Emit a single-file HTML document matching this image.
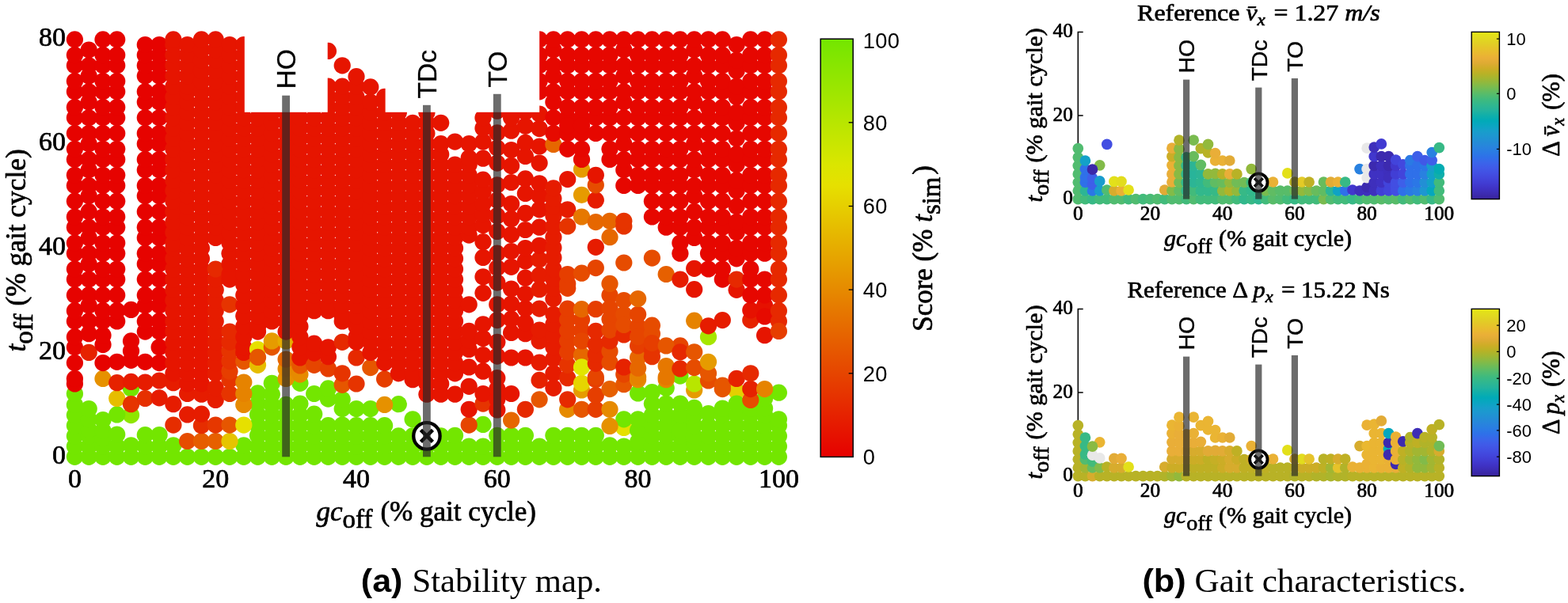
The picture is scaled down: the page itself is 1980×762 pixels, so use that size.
<!DOCTYPE html>
<html lang="en"><head><meta charset="utf-8"><title>Stability map and gait characteristics</title>
<style>html,body{margin:0;padding:0;background:#fff}body{width:1980px;height:762px;overflow:hidden}svg{display:block}.cm{font-family:"Liberation Serif","DejaVu Serif",serif}.sf{font-family:"Liberation Sans","DejaVu Sans",sans-serif}</style></head><body>
<svg width="1980" height="762" viewBox="0 0 1980 762">
<rect width="1980" height="762" fill="#fff"/>
<g id="main">
<path d="M94.4 49.9 V577.3 H983.4" fill="none" stroke="#000" stroke-width="1.2"/>
<g fill="#8ee600"><circle cx="165.5" cy="524.6" r="10.62"/></g>
<g fill="#73e600"><circle cx="503.3" cy="510.7" r="10.62"/></g>
<g fill="#e68a00"><circle cx="716.7" cy="517.3" r="10.62"/></g>
<g fill="#e6e000"><circle cx="787.8" cy="540.4" r="10.62"/></g>
<g fill="#73e600"><circle cx="858.9" cy="475.1" r="10.62"/></g>
<g fill="#e64500"><circle cx="858.9" cy="436.9" r="10.62"/></g>
<g fill="#a6e600"><circle cx="894.5" cy="425.7" r="10.62"/></g>
<g fill="#e6cf00"><circle cx="930.1" cy="494.2" r="10.62"/></g>
<g fill="#73e600"><circle cx="94.4" cy="577.3" r="10.62"/><circle cx="94.4" cy="564.1" r="10.62"/><circle cx="94.4" cy="550.9" r="10.62"/><circle cx="94.4" cy="537.7" r="10.62"/><circle cx="94.4" cy="524.6" r="10.62"/><circle cx="94.4" cy="511.4" r="10.62"/><circle cx="94.4" cy="497.5" r="10.62"/><circle cx="112.2" cy="577.3" r="10.62"/><circle cx="112.2" cy="564.1" r="10.62"/><circle cx="112.2" cy="550.9" r="10.62"/><circle cx="112.2" cy="543" r="10.62"/><circle cx="112.2" cy="529.8" r="10.62"/><circle cx="112.2" cy="516.6" r="10.62"/><circle cx="130" cy="577.3" r="10.62"/><circle cx="130" cy="564.1" r="10.62"/><circle cx="130" cy="554.2" r="10.62"/><circle cx="130" cy="544.3" r="10.62"/><circle cx="130" cy="530.5" r="10.62"/><circle cx="147.7" cy="523.9" r="10.62"/><circle cx="147.7" cy="577.3" r="10.62"/><circle cx="147.7" cy="564.1" r="10.62"/><circle cx="147.7" cy="549" r="10.62"/><circle cx="165.5" cy="577.3" r="10.62"/><circle cx="165.5" cy="562.8" r="10.62"/><circle cx="165.5" cy="490.9" r="10.62"/><circle cx="183.3" cy="577.3" r="10.62"/><circle cx="183.3" cy="564.1" r="10.62"/><circle cx="183.3" cy="549.6" r="10.62"/><circle cx="201.1" cy="577.3" r="10.62"/><circle cx="201.1" cy="564.1" r="10.62"/><circle cx="201.1" cy="549.6" r="10.62"/><circle cx="218.9" cy="577.3" r="10.62"/><circle cx="218.9" cy="562.8" r="10.62"/><circle cx="236.6" cy="577.3" r="10.62"/><circle cx="254.4" cy="577.3" r="10.62"/><circle cx="272.2" cy="577.3" r="10.62"/><circle cx="290" cy="577.3" r="10.62"/><circle cx="307.8" cy="577.3" r="10.62"/><circle cx="307.8" cy="562.8" r="10.62"/><circle cx="325.5" cy="577.3" r="10.62"/><circle cx="325.5" cy="564.1" r="10.62"/><circle cx="325.5" cy="550.3" r="10.62"/><circle cx="325.5" cy="537.7" r="10.62"/><circle cx="325.5" cy="523.9" r="10.62"/><circle cx="325.5" cy="510.1" r="10.62"/><circle cx="325.5" cy="496.9" r="10.62"/><circle cx="343.3" cy="577.3" r="10.62"/><circle cx="343.3" cy="564.1" r="10.62"/><circle cx="343.3" cy="550.9" r="10.62"/><circle cx="343.3" cy="537.7" r="10.62"/><circle cx="343.3" cy="524.6" r="10.62"/><circle cx="343.3" cy="511.4" r="10.62"/><circle cx="343.3" cy="498.2" r="10.62"/><circle cx="343.3" cy="484.3" r="10.62"/><circle cx="361.1" cy="577.3" r="10.62"/><circle cx="361.1" cy="564.1" r="10.62"/><circle cx="361.1" cy="550.9" r="10.62"/><circle cx="361.1" cy="537.7" r="10.62"/><circle cx="361.1" cy="524.6" r="10.62"/><circle cx="361.1" cy="511.4" r="10.62"/><circle cx="378.9" cy="577.3" r="10.62"/><circle cx="378.9" cy="564.1" r="10.62"/><circle cx="378.9" cy="550.9" r="10.62"/><circle cx="378.9" cy="537.7" r="10.62"/><circle cx="378.9" cy="524.6" r="10.62"/><circle cx="378.9" cy="510.1" r="10.62"/><circle cx="378.9" cy="484.3" r="10.62"/><circle cx="396.7" cy="577.3" r="10.62"/><circle cx="396.7" cy="564.1" r="10.62"/><circle cx="396.7" cy="550.9" r="10.62"/><circle cx="396.7" cy="537.7" r="10.62"/><circle cx="396.7" cy="523.2" r="10.62"/><circle cx="396.7" cy="497.5" r="10.62"/><circle cx="414.4" cy="577.3" r="10.62"/><circle cx="414.4" cy="564.1" r="10.62"/><circle cx="414.4" cy="550.9" r="10.62"/><circle cx="414.4" cy="537.7" r="10.62"/><circle cx="414.4" cy="504.1" r="10.62"/><circle cx="414.4" cy="490.9" r="10.62"/><circle cx="432.2" cy="577.3" r="10.62"/><circle cx="432.2" cy="564.1" r="10.62"/><circle cx="432.2" cy="550.9" r="10.62"/><circle cx="432.2" cy="537.1" r="10.62"/><circle cx="432.2" cy="516.6" r="10.62"/><circle cx="432.2" cy="504.8" r="10.62"/><circle cx="450" cy="577.3" r="10.62"/><circle cx="450" cy="564.1" r="10.62"/><circle cx="450" cy="550.9" r="10.62"/><circle cx="450" cy="537.7" r="10.62"/><circle cx="450" cy="516.6" r="10.62"/><circle cx="467.8" cy="577.3" r="10.62"/><circle cx="467.8" cy="564.1" r="10.62"/><circle cx="467.8" cy="550.9" r="10.62"/><circle cx="467.8" cy="537.7" r="10.62"/><circle cx="467.8" cy="516.6" r="10.62"/><circle cx="485.6" cy="577.3" r="10.62"/><circle cx="485.6" cy="564.1" r="10.62"/><circle cx="485.6" cy="550.9" r="10.62"/><circle cx="485.6" cy="537.7" r="10.62"/><circle cx="503.3" cy="577.3" r="10.62"/><circle cx="503.3" cy="564.1" r="10.62"/><circle cx="503.3" cy="550.9" r="10.62"/><circle cx="521.1" cy="577.3" r="10.62"/><circle cx="521.1" cy="564.1" r="10.62"/><circle cx="521.1" cy="550.9" r="10.62"/><circle cx="521.1" cy="529.8" r="10.62"/><circle cx="538.9" cy="577.3" r="10.62"/><circle cx="538.9" cy="564.1" r="10.62"/><circle cx="538.9" cy="550.9" r="10.62"/><circle cx="556.7" cy="577.3" r="10.62"/><circle cx="556.7" cy="564.1" r="10.62"/><circle cx="556.7" cy="550.9" r="10.62"/><circle cx="574.5" cy="577.3" r="10.62"/><circle cx="574.5" cy="564.1" r="10.62"/><circle cx="574.5" cy="550.3" r="10.62"/><circle cx="592.2" cy="577.3" r="10.62"/><circle cx="592.2" cy="564.1" r="10.62"/><circle cx="610" cy="577.3" r="10.62"/><circle cx="610" cy="564.1" r="10.62"/><circle cx="610" cy="536.4" r="10.62"/><circle cx="627.8" cy="577.3" r="10.62"/><circle cx="627.8" cy="564.1" r="10.62"/><circle cx="627.8" cy="550.3" r="10.62"/><circle cx="645.6" cy="577.3" r="10.62"/><circle cx="645.6" cy="564.1" r="10.62"/><circle cx="645.6" cy="550.3" r="10.62"/><circle cx="663.4" cy="577.3" r="10.62"/><circle cx="663.4" cy="564.1" r="10.62"/><circle cx="663.4" cy="550.3" r="10.62"/><circle cx="681.1" cy="577.3" r="10.62"/><circle cx="681.1" cy="564.1" r="10.62"/><circle cx="698.9" cy="577.3" r="10.62"/><circle cx="698.9" cy="564.1" r="10.62"/><circle cx="698.9" cy="550.3" r="10.62"/><circle cx="716.7" cy="577.3" r="10.62"/><circle cx="716.7" cy="564.1" r="10.62"/><circle cx="716.7" cy="550.3" r="10.62"/><circle cx="734.5" cy="577.3" r="10.62"/><circle cx="734.5" cy="564.1" r="10.62"/><circle cx="734.5" cy="550.3" r="10.62"/><circle cx="752.3" cy="577.3" r="10.62"/><circle cx="752.3" cy="564.1" r="10.62"/><circle cx="752.3" cy="550.3" r="10.62"/><circle cx="770" cy="577.3" r="10.62"/><circle cx="770" cy="562.8" r="10.62"/><circle cx="787.8" cy="577.3" r="10.62"/><circle cx="787.8" cy="564.1" r="10.62"/><circle cx="787.8" cy="529.8" r="10.62"/><circle cx="805.6" cy="577.3" r="10.62"/><circle cx="805.6" cy="564.1" r="10.62"/><circle cx="805.6" cy="558.2" r="10.62"/><circle cx="805.6" cy="543.7" r="10.62"/><circle cx="805.6" cy="529.8" r="10.62"/><circle cx="805.6" cy="496.9" r="10.62"/><circle cx="823.4" cy="577.3" r="10.62"/><circle cx="823.4" cy="564.1" r="10.62"/><circle cx="823.4" cy="550.9" r="10.62"/><circle cx="823.4" cy="537.7" r="10.62"/><circle cx="823.4" cy="524.6" r="10.62"/><circle cx="823.4" cy="510.1" r="10.62"/><circle cx="823.4" cy="495.5" r="10.62"/><circle cx="841.2" cy="577.3" r="10.62"/><circle cx="841.2" cy="564.1" r="10.62"/><circle cx="841.2" cy="550.9" r="10.62"/><circle cx="841.2" cy="537.7" r="10.62"/><circle cx="841.2" cy="524.6" r="10.62"/><circle cx="841.2" cy="510.1" r="10.62"/><circle cx="841.2" cy="490.3" r="10.62"/><circle cx="858.9" cy="577.3" r="10.62"/><circle cx="858.9" cy="564.1" r="10.62"/><circle cx="858.9" cy="550.9" r="10.62"/><circle cx="858.9" cy="534.4" r="10.62"/><circle cx="858.9" cy="543.7" r="10.62"/><circle cx="858.9" cy="524.6" r="10.62"/><circle cx="858.9" cy="510.1" r="10.62"/><circle cx="876.7" cy="577.3" r="10.62"/><circle cx="876.7" cy="564.1" r="10.62"/><circle cx="876.7" cy="558.2" r="10.62"/><circle cx="876.7" cy="550.9" r="10.62"/><circle cx="876.7" cy="537.7" r="10.62"/><circle cx="876.7" cy="524.6" r="10.62"/><circle cx="876.7" cy="515.3" r="10.62"/><circle cx="894.5" cy="577.3" r="10.62"/><circle cx="894.5" cy="564.1" r="10.62"/><circle cx="894.5" cy="550.9" r="10.62"/><circle cx="894.5" cy="537.7" r="10.62"/><circle cx="894.5" cy="522.6" r="10.62"/><circle cx="912.3" cy="577.3" r="10.62"/><circle cx="912.3" cy="564.1" r="10.62"/><circle cx="912.3" cy="550.9" r="10.62"/><circle cx="912.3" cy="537.7" r="10.62"/><circle cx="912.3" cy="524.6" r="10.62"/><circle cx="912.3" cy="516" r="10.62"/><circle cx="930.1" cy="577.3" r="10.62"/><circle cx="930.1" cy="564.1" r="10.62"/><circle cx="930.1" cy="550.9" r="10.62"/><circle cx="930.1" cy="537.7" r="10.62"/><circle cx="930.1" cy="524.6" r="10.62"/><circle cx="930.1" cy="510.1" r="10.62"/><circle cx="947.8" cy="577.3" r="10.62"/><circle cx="947.8" cy="564.1" r="10.62"/><circle cx="947.8" cy="550.9" r="10.62"/><circle cx="947.8" cy="537.7" r="10.62"/><circle cx="947.8" cy="524.6" r="10.62"/><circle cx="947.8" cy="516" r="10.62"/><circle cx="965.6" cy="577.3" r="10.62"/><circle cx="965.6" cy="564.1" r="10.62"/><circle cx="965.6" cy="550.9" r="10.62"/><circle cx="965.6" cy="537.7" r="10.62"/><circle cx="965.6" cy="524.6" r="10.62"/><circle cx="965.6" cy="516" r="10.62"/><circle cx="965.6" cy="503.5" r="10.62"/><circle cx="983.4" cy="577.3" r="10.62"/><circle cx="983.4" cy="564.1" r="10.62"/><circle cx="983.4" cy="550.9" r="10.62"/><circle cx="983.4" cy="537.7" r="10.62"/><circle cx="983.4" cy="529.8" r="10.62"/><circle cx="983.4" cy="496.2" r="10.62"/></g>
<g fill="#e60300"><circle cx="94.4" cy="485" r="10.62"/><circle cx="94.4" cy="478.4" r="10.62"/><circle cx="94.4" cy="458.6" r="10.62"/><circle cx="94.4" cy="438.8" r="10.62"/><circle cx="94.4" cy="425.7" r="10.62"/><circle cx="94.4" cy="405.9" r="10.62"/><circle cx="94.4" cy="392.7" r="10.62"/><circle cx="94.4" cy="372.9" r="10.62"/><circle cx="94.4" cy="353.1" r="10.62"/><circle cx="94.4" cy="340" r="10.62"/><circle cx="94.4" cy="320.2" r="10.62"/><circle cx="94.4" cy="307" r="10.62"/><circle cx="94.4" cy="287.2" r="10.62"/><circle cx="94.4" cy="274" r="10.62"/><circle cx="94.4" cy="254.2" r="10.62"/><circle cx="94.4" cy="234.5" r="10.62"/><circle cx="94.4" cy="221.3" r="10.62"/><circle cx="94.4" cy="201.5" r="10.62"/><circle cx="94.4" cy="188.3" r="10.62"/><circle cx="94.4" cy="168.5" r="10.62"/><circle cx="94.4" cy="148.8" r="10.62"/><circle cx="94.4" cy="135.6" r="10.62"/><circle cx="94.4" cy="115.8" r="10.62"/><circle cx="94.4" cy="102.6" r="10.62"/><circle cx="94.4" cy="82.8" r="10.62"/><circle cx="94.4" cy="69.6" r="10.62"/><circle cx="94.4" cy="49.9" r="10.62"/></g>
<g fill="#e62200"><circle cx="112.2" cy="445.4" r="10.62"/></g>
<g fill="#e60300"><circle cx="112.2" cy="421.7" r="10.62"/><circle cx="112.2" cy="405.9" r="10.62"/><circle cx="112.2" cy="386.1" r="10.62"/><circle cx="112.2" cy="372.9" r="10.62"/><circle cx="112.2" cy="353.1" r="10.62"/><circle cx="112.2" cy="333.4" r="10.62"/><circle cx="112.2" cy="320.2" r="10.62"/><circle cx="112.2" cy="300.4" r="10.62"/><circle cx="112.2" cy="287.2" r="10.62"/><circle cx="112.2" cy="267.4" r="10.62"/><circle cx="112.2" cy="247.6" r="10.62"/><circle cx="112.2" cy="234.5" r="10.62"/><circle cx="112.2" cy="214.7" r="10.62"/><circle cx="112.2" cy="201.5" r="10.62"/><circle cx="112.2" cy="181.7" r="10.62"/><circle cx="112.2" cy="168.5" r="10.62"/><circle cx="112.2" cy="148.8" r="10.62"/><circle cx="112.2" cy="129" r="10.62"/><circle cx="112.2" cy="115.8" r="10.62"/><circle cx="112.2" cy="96" r="10.62"/><circle cx="112.2" cy="82.8" r="10.62"/><circle cx="112.2" cy="63" r="10.62"/></g>
<g fill="#e69100"><circle cx="130" cy="478.4" r="10.62"/></g>
<g fill="#e60300"><circle cx="130" cy="458.6" r="10.62"/><circle cx="130" cy="435.6" r="10.62"/><circle cx="130" cy="423.7" r="10.62"/><circle cx="130" cy="405.9" r="10.62"/><circle cx="130" cy="392.7" r="10.62"/><circle cx="130" cy="372.9" r="10.62"/><circle cx="130" cy="353.1" r="10.62"/><circle cx="130" cy="340" r="10.62"/><circle cx="130" cy="320.2" r="10.62"/><circle cx="130" cy="307" r="10.62"/><circle cx="130" cy="287.2" r="10.62"/><circle cx="130" cy="274" r="10.62"/><circle cx="130" cy="254.2" r="10.62"/><circle cx="130" cy="234.5" r="10.62"/><circle cx="130" cy="221.3" r="10.62"/><circle cx="130" cy="201.5" r="10.62"/><circle cx="130" cy="188.3" r="10.62"/><circle cx="130" cy="168.5" r="10.62"/><circle cx="130" cy="148.8" r="10.62"/><circle cx="130" cy="135.6" r="10.62"/><circle cx="130" cy="115.8" r="10.62"/><circle cx="130" cy="102.6" r="10.62"/><circle cx="130" cy="82.8" r="10.62"/><circle cx="130" cy="69.6" r="10.62"/><circle cx="130" cy="49.9" r="10.62"/></g>
<g fill="#e6bd00"><circle cx="147.7" cy="503.5" r="10.62"/></g>
<g fill="#e62200"><circle cx="147.7" cy="483.7" r="10.62"/></g>
<g fill="#e60300"><circle cx="147.7" cy="457.3" r="10.62"/><circle cx="147.7" cy="405.9" r="10.62"/><circle cx="147.7" cy="392.7" r="10.62"/><circle cx="147.7" cy="372.9" r="10.62"/><circle cx="147.7" cy="353.1" r="10.62"/><circle cx="147.7" cy="340" r="10.62"/><circle cx="147.7" cy="320.2" r="10.62"/><circle cx="147.7" cy="307" r="10.62"/><circle cx="147.7" cy="287.2" r="10.62"/><circle cx="147.7" cy="274" r="10.62"/><circle cx="147.7" cy="254.2" r="10.62"/><circle cx="147.7" cy="234.5" r="10.62"/><circle cx="147.7" cy="221.3" r="10.62"/><circle cx="147.7" cy="201.5" r="10.62"/><circle cx="147.7" cy="188.3" r="10.62"/><circle cx="147.7" cy="168.5" r="10.62"/><circle cx="147.7" cy="148.8" r="10.62"/><circle cx="147.7" cy="135.6" r="10.62"/><circle cx="147.7" cy="115.8" r="10.62"/><circle cx="147.7" cy="102.6" r="10.62"/><circle cx="147.7" cy="82.8" r="10.62"/><circle cx="147.7" cy="69.6" r="10.62"/><circle cx="147.7" cy="49.9" r="10.62"/></g>
<g fill="#e63400"><circle cx="165.5" cy="510.7" r="10.62"/></g>
<g fill="#e61c00"><circle cx="165.5" cy="482.4" r="10.62"/></g>
<g fill="#e60300"><circle cx="165.5" cy="455.3" r="10.62"/><circle cx="165.5" cy="443.5" r="10.62"/><circle cx="165.5" cy="430.9" r="10.62"/><circle cx="165.5" cy="391.4" r="10.62"/></g>
<g fill="#e63000"><circle cx="183.3" cy="503.5" r="10.62"/></g>
<g fill="#e61c00"><circle cx="183.3" cy="483" r="10.62"/></g>
<g fill="#e60300"><circle cx="183.3" cy="457.3" r="10.62"/><circle cx="183.3" cy="419.1" r="10.62"/><circle cx="183.3" cy="405.9" r="10.62"/><circle cx="183.3" cy="386.1" r="10.62"/><circle cx="183.3" cy="372.9" r="10.62"/><circle cx="183.3" cy="353.1" r="10.62"/><circle cx="183.3" cy="333.4" r="10.62"/><circle cx="183.3" cy="320.2" r="10.62"/><circle cx="183.3" cy="300.4" r="10.62"/><circle cx="183.3" cy="287.2" r="10.62"/><circle cx="183.3" cy="267.4" r="10.62"/><circle cx="183.3" cy="247.6" r="10.62"/><circle cx="183.3" cy="234.5" r="10.62"/><circle cx="183.3" cy="214.7" r="10.62"/><circle cx="183.3" cy="201.5" r="10.62"/><circle cx="183.3" cy="181.7" r="10.62"/><circle cx="183.3" cy="168.5" r="10.62"/><circle cx="183.3" cy="148.8" r="10.62"/><circle cx="183.3" cy="129" r="10.62"/><circle cx="183.3" cy="115.8" r="10.62"/><circle cx="183.3" cy="96" r="10.62"/><circle cx="183.3" cy="82.8" r="10.62"/><circle cx="183.3" cy="69.6" r="10.62"/><circle cx="183.3" cy="56.5" r="10.62"/></g>
<g fill="#e61c00"><circle cx="201.1" cy="502.8" r="10.62"/><circle cx="201.1" cy="481" r="10.62"/></g>
<g fill="#e60300"><circle cx="201.1" cy="458.6" r="10.62"/><circle cx="201.1" cy="438.8" r="10.62"/><circle cx="201.1" cy="419.1" r="10.62"/><circle cx="201.1" cy="405.9" r="10.62"/><circle cx="201.1" cy="386.1" r="10.62"/><circle cx="201.1" cy="372.9" r="10.62"/><circle cx="201.1" cy="353.1" r="10.62"/><circle cx="201.1" cy="333.4" r="10.62"/><circle cx="201.1" cy="320.2" r="10.62"/><circle cx="201.1" cy="300.4" r="10.62"/><circle cx="201.1" cy="287.2" r="10.62"/><circle cx="201.1" cy="267.4" r="10.62"/><circle cx="201.1" cy="247.6" r="10.62"/><circle cx="201.1" cy="234.5" r="10.62"/><circle cx="201.1" cy="214.7" r="10.62"/><circle cx="201.1" cy="201.5" r="10.62"/><circle cx="201.1" cy="181.7" r="10.62"/><circle cx="201.1" cy="168.5" r="10.62"/><circle cx="201.1" cy="148.8" r="10.62"/><circle cx="201.1" cy="129" r="10.62"/><circle cx="201.1" cy="115.8" r="10.62"/><circle cx="201.1" cy="96" r="10.62"/><circle cx="201.1" cy="82.8" r="10.62"/><circle cx="201.1" cy="69.6" r="10.62"/><circle cx="201.1" cy="56.5" r="10.62"/></g>
<g fill="#e62d00"><circle cx="218.9" cy="537.1" r="10.62"/></g>
<g fill="#e61c00"><circle cx="218.9" cy="510.7" r="10.62"/><circle cx="218.9" cy="483.7" r="10.62"/></g>
<g fill="#e61500"><circle cx="218.9" cy="471.8" r="10.62"/><circle cx="218.9" cy="458.6" r="10.62"/><circle cx="218.9" cy="445.4" r="10.62"/><circle cx="218.9" cy="432.3" r="10.62"/><circle cx="218.9" cy="419.1" r="10.62"/><circle cx="218.9" cy="405.9" r="10.62"/><circle cx="218.9" cy="392.7" r="10.62"/><circle cx="218.9" cy="379.5" r="10.62"/><circle cx="218.9" cy="366.3" r="10.62"/><circle cx="218.9" cy="353.1" r="10.62"/><circle cx="218.9" cy="340" r="10.62"/><circle cx="218.9" cy="326.8" r="10.62"/><circle cx="218.9" cy="313.6" r="10.62"/><circle cx="218.9" cy="307" r="10.62"/><circle cx="218.9" cy="293.8" r="10.62"/><circle cx="218.9" cy="280.6" r="10.62"/><circle cx="218.9" cy="267.4" r="10.62"/><circle cx="218.9" cy="254.2" r="10.62"/><circle cx="218.9" cy="241.1" r="10.62"/><circle cx="218.9" cy="227.9" r="10.62"/><circle cx="218.9" cy="214.7" r="10.62"/><circle cx="218.9" cy="201.5" r="10.62"/><circle cx="218.9" cy="188.3" r="10.62"/><circle cx="218.9" cy="175.1" r="10.62"/><circle cx="218.9" cy="161.9" r="10.62"/><circle cx="218.9" cy="148.8" r="10.62"/><circle cx="218.9" cy="135.6" r="10.62"/><circle cx="218.9" cy="122.4" r="10.62"/><circle cx="218.9" cy="109.2" r="10.62"/><circle cx="218.9" cy="96" r="10.62"/><circle cx="218.9" cy="82.8" r="10.62"/><circle cx="218.9" cy="69.6" r="10.62"/><circle cx="218.9" cy="56.5" r="10.62"/><circle cx="218.9" cy="49.9" r="10.62"/></g>
<g fill="#e64c00"><circle cx="236.6" cy="557.5" r="10.62"/></g>
<g fill="#e61c00"><circle cx="236.6" cy="523.9" r="10.62"/><circle cx="236.6" cy="497.5" r="10.62"/></g>
<g fill="#e61500"><circle cx="236.6" cy="485" r="10.62"/><circle cx="236.6" cy="471.8" r="10.62"/><circle cx="236.6" cy="458.6" r="10.62"/><circle cx="236.6" cy="445.4" r="10.62"/><circle cx="236.6" cy="432.3" r="10.62"/><circle cx="236.6" cy="419.1" r="10.62"/><circle cx="236.6" cy="405.9" r="10.62"/><circle cx="236.6" cy="392.7" r="10.62"/><circle cx="236.6" cy="379.5" r="10.62"/><circle cx="236.6" cy="366.3" r="10.62"/><circle cx="236.6" cy="353.1" r="10.62"/><circle cx="236.6" cy="340" r="10.62"/><circle cx="236.6" cy="326.8" r="10.62"/><circle cx="236.6" cy="313.6" r="10.62"/><circle cx="236.6" cy="300.4" r="10.62"/><circle cx="236.6" cy="287.2" r="10.62"/><circle cx="236.6" cy="274" r="10.62"/><circle cx="236.6" cy="260.8" r="10.62"/><circle cx="236.6" cy="247.6" r="10.62"/><circle cx="236.6" cy="234.5" r="10.62"/><circle cx="236.6" cy="221.3" r="10.62"/><circle cx="236.6" cy="208.1" r="10.62"/><circle cx="236.6" cy="194.9" r="10.62"/><circle cx="236.6" cy="181.7" r="10.62"/><circle cx="236.6" cy="168.5" r="10.62"/><circle cx="236.6" cy="155.3" r="10.62"/><circle cx="236.6" cy="142.2" r="10.62"/><circle cx="236.6" cy="129" r="10.62"/><circle cx="236.6" cy="115.8" r="10.62"/><circle cx="236.6" cy="109.2" r="10.62"/><circle cx="236.6" cy="96" r="10.62"/><circle cx="236.6" cy="82.8" r="10.62"/><circle cx="236.6" cy="69.6" r="10.62"/><circle cx="236.6" cy="56.5" r="10.62"/></g>
<g fill="#e65d00"><circle cx="254.4" cy="557.5" r="10.62"/></g>
<g fill="#e62d00"><circle cx="254.4" cy="537.7" r="10.62"/></g>
<g fill="#e61c00"><circle cx="254.4" cy="523.2" r="10.62"/><circle cx="254.4" cy="498.2" r="10.62"/></g>
<g fill="#e61500"><circle cx="254.4" cy="485" r="10.62"/><circle cx="254.4" cy="471.8" r="10.62"/><circle cx="254.4" cy="458.6" r="10.62"/><circle cx="254.4" cy="445.4" r="10.62"/><circle cx="254.4" cy="432.3" r="10.62"/><circle cx="254.4" cy="419.1" r="10.62"/><circle cx="254.4" cy="405.9" r="10.62"/><circle cx="254.4" cy="392.7" r="10.62"/><circle cx="254.4" cy="379.5" r="10.62"/><circle cx="254.4" cy="366.3" r="10.62"/><circle cx="254.4" cy="353.1" r="10.62"/><circle cx="254.4" cy="340" r="10.62"/><circle cx="254.4" cy="326.8" r="10.62"/><circle cx="254.4" cy="313.6" r="10.62"/><circle cx="254.4" cy="300.4" r="10.62"/><circle cx="254.4" cy="287.2" r="10.62"/><circle cx="254.4" cy="274" r="10.62"/><circle cx="254.4" cy="260.8" r="10.62"/><circle cx="254.4" cy="247.6" r="10.62"/><circle cx="254.4" cy="234.5" r="10.62"/><circle cx="254.4" cy="221.3" r="10.62"/><circle cx="254.4" cy="208.1" r="10.62"/><circle cx="254.4" cy="194.9" r="10.62"/><circle cx="254.4" cy="181.7" r="10.62"/><circle cx="254.4" cy="168.5" r="10.62"/><circle cx="254.4" cy="155.3" r="10.62"/><circle cx="254.4" cy="142.2" r="10.62"/><circle cx="254.4" cy="129" r="10.62"/><circle cx="254.4" cy="115.8" r="10.62"/><circle cx="254.4" cy="102.6" r="10.62"/><circle cx="254.4" cy="89.4" r="10.62"/><circle cx="254.4" cy="76.2" r="10.62"/><circle cx="254.4" cy="63" r="10.62"/><circle cx="254.4" cy="49.9" r="10.62"/></g>
<g fill="#e66000"><circle cx="272.2" cy="557.5" r="10.62"/></g>
<g fill="#e63700"><circle cx="272.2" cy="537.1" r="10.62"/></g>
<g fill="#e61c00"><circle cx="272.2" cy="505.4" r="10.62"/><circle cx="272.2" cy="490.3" r="10.62"/><circle cx="272.2" cy="471.8" r="10.62"/><circle cx="272.2" cy="458.6" r="10.62"/><circle cx="272.2" cy="445.4" r="10.62"/><circle cx="272.2" cy="432.3" r="10.62"/><circle cx="272.2" cy="419.1" r="10.62"/><circle cx="272.2" cy="405.9" r="10.62"/><circle cx="272.2" cy="392.7" r="10.62"/><circle cx="272.2" cy="379.5" r="10.62"/><circle cx="272.2" cy="366.3" r="10.62"/><circle cx="272.2" cy="353.1" r="10.62"/></g>
<g fill="#e62900"><circle cx="272.2" cy="340" r="10.62"/></g>
<g fill="#e61500"><circle cx="272.2" cy="300.4" r="10.62"/><circle cx="272.2" cy="287.2" r="10.62"/><circle cx="272.2" cy="274" r="10.62"/><circle cx="272.2" cy="260.8" r="10.62"/><circle cx="272.2" cy="247.6" r="10.62"/><circle cx="272.2" cy="234.5" r="10.62"/><circle cx="272.2" cy="221.3" r="10.62"/><circle cx="272.2" cy="208.1" r="10.62"/><circle cx="272.2" cy="194.9" r="10.62"/><circle cx="272.2" cy="181.7" r="10.62"/><circle cx="272.2" cy="168.5" r="10.62"/><circle cx="272.2" cy="155.3" r="10.62"/><circle cx="272.2" cy="142.2" r="10.62"/><circle cx="272.2" cy="129" r="10.62"/><circle cx="272.2" cy="115.8" r="10.62"/><circle cx="272.2" cy="102.6" r="10.62"/><circle cx="272.2" cy="89.4" r="10.62"/><circle cx="272.2" cy="76.2" r="10.62"/><circle cx="272.2" cy="63" r="10.62"/><circle cx="272.2" cy="49.9" r="10.62"/></g>
<g fill="#e6c400"><circle cx="290" cy="557.5" r="10.62"/></g>
<g fill="#e65600"><circle cx="290" cy="537.1" r="10.62"/></g>
<g fill="#e63400"><circle cx="290" cy="497.5" r="10.62"/><circle cx="290" cy="479.7" r="10.62"/></g>
<g fill="#e63e00"><circle cx="290" cy="469.2" r="10.62"/></g>
<g fill="#e63400"><circle cx="290" cy="456.6" r="10.62"/><circle cx="290" cy="443.5" r="10.62"/></g>
<g fill="#e62900"><circle cx="290" cy="432.3" r="10.62"/><circle cx="290" cy="419.1" r="10.62"/></g>
<g fill="#e63400"><circle cx="290" cy="384.8" r="10.62"/></g>
<g fill="#e61500"><circle cx="290" cy="353.1" r="10.62"/><circle cx="290" cy="346.5" r="10.62"/><circle cx="290" cy="333.4" r="10.62"/><circle cx="290" cy="320.2" r="10.62"/><circle cx="290" cy="307" r="10.62"/><circle cx="290" cy="293.8" r="10.62"/><circle cx="290" cy="280.6" r="10.62"/><circle cx="290" cy="267.4" r="10.62"/><circle cx="290" cy="254.2" r="10.62"/><circle cx="290" cy="241.1" r="10.62"/><circle cx="290" cy="227.9" r="10.62"/><circle cx="290" cy="214.7" r="10.62"/><circle cx="290" cy="201.5" r="10.62"/><circle cx="290" cy="188.3" r="10.62"/><circle cx="290" cy="175.1" r="10.62"/><circle cx="290" cy="161.9" r="10.62"/><circle cx="290" cy="148.8" r="10.62"/><circle cx="290" cy="135.6" r="10.62"/><circle cx="290" cy="122.4" r="10.62"/><circle cx="290" cy="109.2" r="10.62"/><circle cx="290" cy="96" r="10.62"/><circle cx="290" cy="82.8" r="10.62"/><circle cx="290" cy="69.6" r="10.62"/><circle cx="290" cy="56.5" r="10.62"/></g>
<g fill="#e6e000"><circle cx="307.8" cy="537.1" r="10.62"/></g>
<g fill="#e68a00"><circle cx="307.8" cy="511.4" r="10.62"/></g>
<g fill="#e68300"><circle cx="307.8" cy="497.5" r="10.62"/><circle cx="307.8" cy="483" r="10.62"/></g>
<g fill="#e65600"><circle cx="307.8" cy="456.6" r="10.62"/></g>
<g fill="#e61500"><circle cx="307.8" cy="445.4" r="10.62"/><circle cx="307.8" cy="438.8" r="10.62"/><circle cx="307.8" cy="425.7" r="10.62"/><circle cx="307.8" cy="412.5" r="10.62"/><circle cx="307.8" cy="399.3" r="10.62"/><circle cx="307.8" cy="386.1" r="10.62"/><circle cx="307.8" cy="372.9" r="10.62"/><circle cx="307.8" cy="359.7" r="10.62"/><circle cx="307.8" cy="346.5" r="10.62"/><circle cx="307.8" cy="333.4" r="10.62"/><circle cx="307.8" cy="320.2" r="10.62"/><circle cx="307.8" cy="307" r="10.62"/><circle cx="307.8" cy="293.8" r="10.62"/><circle cx="307.8" cy="280.6" r="10.62"/><circle cx="307.8" cy="267.4" r="10.62"/><circle cx="307.8" cy="254.2" r="10.62"/><circle cx="307.8" cy="241.1" r="10.62"/><circle cx="307.8" cy="227.9" r="10.62"/><circle cx="307.8" cy="214.7" r="10.62"/><circle cx="307.8" cy="201.5" r="10.62"/><circle cx="307.8" cy="188.3" r="10.62"/><circle cx="307.8" cy="175.1" r="10.62"/><circle cx="307.8" cy="161.9" r="10.62"/><circle cx="307.8" cy="148.8" r="10.62"/><circle cx="307.8" cy="135.6" r="10.62"/><circle cx="307.8" cy="122.4" r="10.62"/><circle cx="307.8" cy="109.2" r="10.62"/><circle cx="307.8" cy="96" r="10.62"/><circle cx="307.8" cy="82.8" r="10.62"/><circle cx="307.8" cy="69.6" r="10.62"/><circle cx="307.8" cy="56.5" r="10.62"/></g>
<g fill="#e6bd00"><circle cx="325.5" cy="461.3" r="10.62"/></g>
<g fill="#e6e000"><circle cx="325.5" cy="441.5" r="10.62"/></g>
<g fill="#e65600"><circle cx="325.5" cy="451.4" r="10.62"/></g>
<g fill="#e61500"><circle cx="325.5" cy="419.1" r="10.62"/><circle cx="325.5" cy="412.5" r="10.62"/><circle cx="325.5" cy="399.3" r="10.62"/><circle cx="325.5" cy="386.1" r="10.62"/><circle cx="325.5" cy="372.9" r="10.62"/><circle cx="325.5" cy="359.7" r="10.62"/><circle cx="325.5" cy="346.5" r="10.62"/><circle cx="325.5" cy="333.4" r="10.62"/><circle cx="325.5" cy="320.2" r="10.62"/><circle cx="325.5" cy="307" r="10.62"/><circle cx="325.5" cy="293.8" r="10.62"/><circle cx="325.5" cy="280.6" r="10.62"/><circle cx="325.5" cy="267.4" r="10.62"/><circle cx="325.5" cy="254.2" r="10.62"/><circle cx="325.5" cy="241.1" r="10.62"/><circle cx="325.5" cy="227.9" r="10.62"/><circle cx="325.5" cy="214.7" r="10.62"/><circle cx="325.5" cy="201.5" r="10.62"/><circle cx="325.5" cy="188.3" r="10.62"/><circle cx="325.5" cy="175.1" r="10.62"/><circle cx="325.5" cy="161.9" r="10.62"/><circle cx="325.5" cy="148.8" r="10.62"/><circle cx="325.5" cy="135.6" r="10.62"/><circle cx="325.5" cy="122.4" r="10.62"/><circle cx="325.5" cy="109.2" r="10.62"/><circle cx="325.5" cy="96" r="10.62"/><circle cx="325.5" cy="82.8" r="10.62"/><circle cx="325.5" cy="69.6" r="10.62"/><circle cx="325.5" cy="56.5" r="10.62"/></g>
<g fill="#e65600"><circle cx="343.3" cy="438.8" r="10.62"/></g>
<g fill="#e69b00"><circle cx="343.3" cy="430.9" r="10.62"/></g>
<g fill="#e61500"><circle cx="343.3" cy="405.9" r="10.62"/><circle cx="343.3" cy="392.7" r="10.62"/><circle cx="343.3" cy="379.5" r="10.62"/><circle cx="343.3" cy="366.3" r="10.62"/><circle cx="343.3" cy="353.1" r="10.62"/><circle cx="343.3" cy="340" r="10.62"/><circle cx="343.3" cy="326.8" r="10.62"/><circle cx="343.3" cy="313.6" r="10.62"/><circle cx="343.3" cy="300.4" r="10.62"/><circle cx="343.3" cy="287.2" r="10.62"/><circle cx="343.3" cy="274" r="10.62"/><circle cx="343.3" cy="260.8" r="10.62"/><circle cx="343.3" cy="247.6" r="10.62"/><circle cx="343.3" cy="234.5" r="10.62"/><circle cx="343.3" cy="221.3" r="10.62"/><circle cx="343.3" cy="208.1" r="10.62"/><circle cx="343.3" cy="194.9" r="10.62"/><circle cx="343.3" cy="181.7" r="10.62"/><circle cx="343.3" cy="168.5" r="10.62"/><circle cx="343.3" cy="155.3" r="10.62"/><circle cx="343.3" cy="142.2" r="10.62"/><circle cx="343.3" cy="129" r="10.62"/><circle cx="343.3" cy="115.8" r="10.62"/><circle cx="343.3" cy="102.6" r="10.62"/><circle cx="343.3" cy="89.4" r="10.62"/><circle cx="343.3" cy="76.2" r="10.62"/><circle cx="343.3" cy="63" r="10.62"/><circle cx="343.3" cy="49.9" r="10.62"/></g>
<g fill="#e69100"><circle cx="361.1" cy="478.4" r="10.62"/></g>
<g fill="#e68a00"><circle cx="361.1" cy="465.9" r="10.62"/></g>
<g fill="#e66700"><circle cx="361.1" cy="454" r="10.62"/></g>
<g fill="#e6ac00"><circle cx="361.1" cy="430.9" r="10.62"/></g>
<g fill="#e61500"><circle cx="361.1" cy="419.1" r="10.62"/><circle cx="361.1" cy="405.9" r="10.62"/><circle cx="361.1" cy="392.7" r="10.62"/><circle cx="361.1" cy="379.5" r="10.62"/><circle cx="361.1" cy="366.3" r="10.62"/><circle cx="361.1" cy="353.1" r="10.62"/><circle cx="361.1" cy="340" r="10.62"/><circle cx="361.1" cy="326.8" r="10.62"/><circle cx="361.1" cy="313.6" r="10.62"/><circle cx="361.1" cy="300.4" r="10.62"/><circle cx="361.1" cy="287.2" r="10.62"/><circle cx="361.1" cy="274" r="10.62"/><circle cx="361.1" cy="260.8" r="10.62"/><circle cx="361.1" cy="247.6" r="10.62"/><circle cx="361.1" cy="234.5" r="10.62"/><circle cx="361.1" cy="221.3" r="10.62"/><circle cx="361.1" cy="208.1" r="10.62"/><circle cx="361.1" cy="194.9" r="10.62"/><circle cx="361.1" cy="181.7" r="10.62"/><circle cx="361.1" cy="168.5" r="10.62"/><circle cx="361.1" cy="155.3" r="10.62"/><circle cx="361.1" cy="142.2" r="10.62"/><circle cx="361.1" cy="129" r="10.62"/><circle cx="361.1" cy="115.8" r="10.62"/><circle cx="361.1" cy="102.6" r="10.62"/><circle cx="361.1" cy="89.4" r="10.62"/><circle cx="361.1" cy="76.2" r="10.62"/><circle cx="361.1" cy="63" r="10.62"/><circle cx="361.1" cy="49.9" r="10.62"/></g>
<g fill="#e68a00"><circle cx="378.9" cy="473.1" r="10.62"/></g>
<g fill="#e65600"><circle cx="378.9" cy="461.9" r="10.62"/></g>
<g fill="#e61500"><circle cx="378.9" cy="452" r="10.62"/><circle cx="378.9" cy="438.8" r="10.62"/><circle cx="378.9" cy="425.7" r="10.62"/><circle cx="378.9" cy="412.5" r="10.62"/><circle cx="378.9" cy="399.3" r="10.62"/><circle cx="378.9" cy="386.1" r="10.62"/><circle cx="378.9" cy="372.9" r="10.62"/><circle cx="378.9" cy="359.7" r="10.62"/><circle cx="378.9" cy="346.5" r="10.62"/><circle cx="378.9" cy="333.4" r="10.62"/><circle cx="378.9" cy="320.2" r="10.62"/><circle cx="378.9" cy="307" r="10.62"/><circle cx="378.9" cy="293.8" r="10.62"/><circle cx="378.9" cy="280.6" r="10.62"/><circle cx="378.9" cy="267.4" r="10.62"/><circle cx="378.9" cy="254.2" r="10.62"/><circle cx="378.9" cy="241.1" r="10.62"/><circle cx="378.9" cy="227.9" r="10.62"/><circle cx="378.9" cy="214.7" r="10.62"/><circle cx="378.9" cy="201.5" r="10.62"/><circle cx="378.9" cy="188.3" r="10.62"/><circle cx="378.9" cy="175.1" r="10.62"/><circle cx="378.9" cy="161.9" r="10.62"/><circle cx="378.9" cy="148.8" r="10.62"/><circle cx="378.9" cy="135.6" r="10.62"/><circle cx="378.9" cy="122.4" r="10.62"/><circle cx="378.9" cy="109.2" r="10.62"/><circle cx="378.9" cy="96" r="10.62"/><circle cx="378.9" cy="82.8" r="10.62"/><circle cx="378.9" cy="69.6" r="10.62"/><circle cx="378.9" cy="56.5" r="10.62"/></g>
<g fill="#e64500"><circle cx="396.7" cy="461.3" r="10.62"/></g>
<g fill="#e61500"><circle cx="396.7" cy="446.1" r="10.62"/><circle cx="396.7" cy="434.2" r="10.62"/><circle cx="396.7" cy="392.7" r="10.62"/><circle cx="396.7" cy="386.1" r="10.62"/><circle cx="396.7" cy="372.9" r="10.62"/><circle cx="396.7" cy="359.7" r="10.62"/><circle cx="396.7" cy="346.5" r="10.62"/><circle cx="396.7" cy="333.4" r="10.62"/><circle cx="396.7" cy="320.2" r="10.62"/><circle cx="396.7" cy="307" r="10.62"/><circle cx="396.7" cy="293.8" r="10.62"/><circle cx="396.7" cy="280.6" r="10.62"/><circle cx="396.7" cy="267.4" r="10.62"/><circle cx="396.7" cy="254.2" r="10.62"/><circle cx="396.7" cy="241.1" r="10.62"/><circle cx="396.7" cy="227.9" r="10.62"/><circle cx="396.7" cy="214.7" r="10.62"/><circle cx="396.7" cy="201.5" r="10.62"/><circle cx="396.7" cy="188.3" r="10.62"/><circle cx="396.7" cy="175.1" r="10.62"/><circle cx="396.7" cy="161.9" r="10.62"/><circle cx="396.7" cy="148.8" r="10.62"/><circle cx="396.7" cy="135.6" r="10.62"/><circle cx="396.7" cy="122.4" r="10.62"/><circle cx="396.7" cy="109.2" r="10.62"/><circle cx="396.7" cy="96" r="10.62"/><circle cx="396.7" cy="82.8" r="10.62"/><circle cx="396.7" cy="69.6" r="10.62"/><circle cx="396.7" cy="56.5" r="10.62"/></g>
<g fill="#e63e00"><circle cx="414.4" cy="465.9" r="10.62"/></g>
<g fill="#e61500"><circle cx="414.4" cy="450.7" r="10.62"/><circle cx="414.4" cy="438.8" r="10.62"/><circle cx="414.4" cy="392.7" r="10.62"/><circle cx="414.4" cy="386.1" r="10.62"/><circle cx="414.4" cy="372.9" r="10.62"/><circle cx="414.4" cy="359.7" r="10.62"/><circle cx="414.4" cy="346.5" r="10.62"/><circle cx="414.4" cy="333.4" r="10.62"/><circle cx="414.4" cy="320.2" r="10.62"/><circle cx="414.4" cy="307" r="10.62"/><circle cx="414.4" cy="293.8" r="10.62"/><circle cx="414.4" cy="280.6" r="10.62"/><circle cx="414.4" cy="267.4" r="10.62"/><circle cx="414.4" cy="254.2" r="10.62"/><circle cx="414.4" cy="241.1" r="10.62"/><circle cx="414.4" cy="227.9" r="10.62"/><circle cx="414.4" cy="214.7" r="10.62"/><circle cx="414.4" cy="201.5" r="10.62"/><circle cx="414.4" cy="188.3" r="10.62"/><circle cx="414.4" cy="175.1" r="10.62"/><circle cx="414.4" cy="161.9" r="10.62"/><circle cx="414.4" cy="148.8" r="10.62"/><circle cx="414.4" cy="135.6" r="10.62"/><circle cx="414.4" cy="122.4" r="10.62"/><circle cx="414.4" cy="109.2" r="10.62"/><circle cx="414.4" cy="64.4" r="10.62"/></g>
<g fill="#e65600"><circle cx="432.2" cy="486.3" r="10.62"/></g>
<g fill="#e63400"><circle cx="432.2" cy="471.8" r="10.62"/></g>
<g fill="#e62900"><circle cx="432.2" cy="432.3" r="10.62"/></g>
<g fill="#e61500"><circle cx="432.2" cy="405.9" r="10.62"/><circle cx="432.2" cy="399.3" r="10.62"/><circle cx="432.2" cy="386.1" r="10.62"/><circle cx="432.2" cy="372.9" r="10.62"/><circle cx="432.2" cy="359.7" r="10.62"/><circle cx="432.2" cy="346.5" r="10.62"/><circle cx="432.2" cy="333.4" r="10.62"/><circle cx="432.2" cy="320.2" r="10.62"/><circle cx="432.2" cy="307" r="10.62"/><circle cx="432.2" cy="293.8" r="10.62"/><circle cx="432.2" cy="280.6" r="10.62"/><circle cx="432.2" cy="267.4" r="10.62"/><circle cx="432.2" cy="254.2" r="10.62"/><circle cx="432.2" cy="241.1" r="10.62"/><circle cx="432.2" cy="227.9" r="10.62"/><circle cx="432.2" cy="214.7" r="10.62"/><circle cx="432.2" cy="201.5" r="10.62"/><circle cx="432.2" cy="188.3" r="10.62"/><circle cx="432.2" cy="175.1" r="10.62"/><circle cx="432.2" cy="161.9" r="10.62"/><circle cx="432.2" cy="148.8" r="10.62"/><circle cx="432.2" cy="135.6" r="10.62"/><circle cx="432.2" cy="122.4" r="10.62"/><circle cx="432.2" cy="109.2" r="10.62"/><circle cx="432.2" cy="82.8" r="10.62"/></g>
<g fill="#e63400"><circle cx="450" cy="485" r="10.62"/></g>
<g fill="#e62900"><circle cx="450" cy="452" r="10.62"/></g>
<g fill="#e61500"><circle cx="450" cy="432.3" r="10.62"/><circle cx="450" cy="425.7" r="10.62"/><circle cx="450" cy="412.5" r="10.62"/><circle cx="450" cy="399.3" r="10.62"/><circle cx="450" cy="386.1" r="10.62"/><circle cx="450" cy="372.9" r="10.62"/><circle cx="450" cy="359.7" r="10.62"/><circle cx="450" cy="346.5" r="10.62"/><circle cx="450" cy="333.4" r="10.62"/><circle cx="450" cy="320.2" r="10.62"/><circle cx="450" cy="307" r="10.62"/><circle cx="450" cy="293.8" r="10.62"/><circle cx="450" cy="280.6" r="10.62"/><circle cx="450" cy="267.4" r="10.62"/><circle cx="450" cy="254.2" r="10.62"/><circle cx="450" cy="241.1" r="10.62"/><circle cx="450" cy="227.9" r="10.62"/><circle cx="450" cy="214.7" r="10.62"/><circle cx="450" cy="201.5" r="10.62"/><circle cx="450" cy="188.3" r="10.62"/><circle cx="450" cy="175.1" r="10.62"/><circle cx="450" cy="161.9" r="10.62"/><circle cx="450" cy="148.8" r="10.62"/><circle cx="450" cy="135.6" r="10.62"/><circle cx="450" cy="122.4" r="10.62"/><circle cx="450" cy="109.2" r="10.62"/><circle cx="450" cy="96.7" r="10.62"/></g>
<g fill="#e65600"><circle cx="467.8" cy="464.6" r="10.62"/></g>
<g fill="#e61500"><circle cx="467.8" cy="445.4" r="10.62"/><circle cx="467.8" cy="432.3" r="10.62"/><circle cx="467.8" cy="419.1" r="10.62"/><circle cx="467.8" cy="405.9" r="10.62"/><circle cx="467.8" cy="392.7" r="10.62"/><circle cx="467.8" cy="379.5" r="10.62"/><circle cx="467.8" cy="366.3" r="10.62"/><circle cx="467.8" cy="353.1" r="10.62"/><circle cx="467.8" cy="340" r="10.62"/><circle cx="467.8" cy="326.8" r="10.62"/><circle cx="467.8" cy="313.6" r="10.62"/><circle cx="467.8" cy="300.4" r="10.62"/><circle cx="467.8" cy="287.2" r="10.62"/><circle cx="467.8" cy="274" r="10.62"/><circle cx="467.8" cy="260.8" r="10.62"/><circle cx="467.8" cy="247.6" r="10.62"/><circle cx="467.8" cy="234.5" r="10.62"/><circle cx="467.8" cy="221.3" r="10.62"/><circle cx="467.8" cy="208.1" r="10.62"/><circle cx="467.8" cy="194.9" r="10.62"/><circle cx="467.8" cy="181.7" r="10.62"/><circle cx="467.8" cy="168.5" r="10.62"/><circle cx="467.8" cy="155.3" r="10.62"/><circle cx="467.8" cy="142.2" r="10.62"/><circle cx="467.8" cy="129" r="10.62"/><circle cx="467.8" cy="109.9" r="10.62"/></g>
<g fill="#e69100"><circle cx="485.6" cy="511.4" r="10.62"/></g>
<g fill="#e63e00"><circle cx="485.6" cy="479.1" r="10.62"/></g>
<g fill="#e61500"><circle cx="485.6" cy="458.6" r="10.62"/><circle cx="485.6" cy="445.4" r="10.62"/><circle cx="485.6" cy="432.3" r="10.62"/><circle cx="485.6" cy="419.1" r="10.62"/><circle cx="485.6" cy="405.9" r="10.62"/><circle cx="485.6" cy="392.7" r="10.62"/><circle cx="485.6" cy="379.5" r="10.62"/><circle cx="485.6" cy="366.3" r="10.62"/><circle cx="485.6" cy="353.1" r="10.62"/><circle cx="485.6" cy="340" r="10.62"/><circle cx="485.6" cy="326.8" r="10.62"/><circle cx="485.6" cy="313.6" r="10.62"/><circle cx="485.6" cy="300.4" r="10.62"/><circle cx="485.6" cy="287.2" r="10.62"/><circle cx="485.6" cy="274" r="10.62"/><circle cx="485.6" cy="260.8" r="10.62"/><circle cx="485.6" cy="247.6" r="10.62"/><circle cx="485.6" cy="234.5" r="10.62"/><circle cx="485.6" cy="221.3" r="10.62"/><circle cx="485.6" cy="208.1" r="10.62"/><circle cx="485.6" cy="194.9" r="10.62"/><circle cx="485.6" cy="181.7" r="10.62"/><circle cx="485.6" cy="168.5" r="10.62"/><circle cx="485.6" cy="155.3" r="10.62"/><circle cx="485.6" cy="142.2" r="10.62"/><circle cx="485.6" cy="129" r="10.62"/><circle cx="485.6" cy="122.4" r="10.62"/><circle cx="503.3" cy="471.8" r="10.62"/><circle cx="503.3" cy="458.6" r="10.62"/><circle cx="503.3" cy="445.4" r="10.62"/><circle cx="503.3" cy="432.3" r="10.62"/><circle cx="503.3" cy="419.1" r="10.62"/><circle cx="503.3" cy="405.9" r="10.62"/><circle cx="503.3" cy="392.7" r="10.62"/><circle cx="503.3" cy="379.5" r="10.62"/><circle cx="503.3" cy="366.3" r="10.62"/><circle cx="503.3" cy="353.1" r="10.62"/><circle cx="503.3" cy="340" r="10.62"/><circle cx="503.3" cy="326.8" r="10.62"/><circle cx="503.3" cy="313.6" r="10.62"/><circle cx="503.3" cy="300.4" r="10.62"/><circle cx="503.3" cy="287.2" r="10.62"/><circle cx="503.3" cy="274" r="10.62"/><circle cx="503.3" cy="260.8" r="10.62"/><circle cx="503.3" cy="247.6" r="10.62"/><circle cx="503.3" cy="234.5" r="10.62"/><circle cx="503.3" cy="221.3" r="10.62"/><circle cx="503.3" cy="208.1" r="10.62"/><circle cx="503.3" cy="194.9" r="10.62"/><circle cx="503.3" cy="181.7" r="10.62"/><circle cx="503.3" cy="168.5" r="10.62"/><circle cx="503.3" cy="155.3" r="10.62"/><circle cx="503.3" cy="142.2" r="10.62"/><circle cx="503.3" cy="129" r="10.62"/><circle cx="503.3" cy="115.8" r="10.62"/><circle cx="521.1" cy="479.7" r="10.62"/><circle cx="521.1" cy="471.8" r="10.62"/><circle cx="521.1" cy="458.6" r="10.62"/><circle cx="521.1" cy="445.4" r="10.62"/><circle cx="521.1" cy="432.3" r="10.62"/><circle cx="521.1" cy="419.1" r="10.62"/><circle cx="521.1" cy="405.9" r="10.62"/><circle cx="521.1" cy="392.7" r="10.62"/><circle cx="521.1" cy="379.5" r="10.62"/><circle cx="521.1" cy="366.3" r="10.62"/><circle cx="521.1" cy="353.1" r="10.62"/><circle cx="521.1" cy="340" r="10.62"/><circle cx="521.1" cy="326.8" r="10.62"/><circle cx="521.1" cy="313.6" r="10.62"/><circle cx="521.1" cy="300.4" r="10.62"/><circle cx="521.1" cy="287.2" r="10.62"/><circle cx="521.1" cy="274" r="10.62"/><circle cx="521.1" cy="260.8" r="10.62"/><circle cx="521.1" cy="247.6" r="10.62"/><circle cx="521.1" cy="234.5" r="10.62"/><circle cx="521.1" cy="221.3" r="10.62"/><circle cx="521.1" cy="208.1" r="10.62"/><circle cx="521.1" cy="194.9" r="10.62"/><circle cx="521.1" cy="181.7" r="10.62"/><circle cx="521.1" cy="168.5" r="10.62"/><circle cx="521.1" cy="155.3" r="10.62"/><circle cx="538.9" cy="498.2" r="10.62"/><circle cx="538.9" cy="485" r="10.62"/><circle cx="538.9" cy="471.8" r="10.62"/><circle cx="538.9" cy="458.6" r="10.62"/><circle cx="538.9" cy="445.4" r="10.62"/><circle cx="538.9" cy="432.3" r="10.62"/><circle cx="538.9" cy="419.1" r="10.62"/><circle cx="538.9" cy="405.9" r="10.62"/><circle cx="538.9" cy="392.7" r="10.62"/><circle cx="538.9" cy="379.5" r="10.62"/><circle cx="538.9" cy="366.3" r="10.62"/><circle cx="538.9" cy="353.1" r="10.62"/><circle cx="538.9" cy="340" r="10.62"/><circle cx="538.9" cy="326.8" r="10.62"/><circle cx="538.9" cy="313.6" r="10.62"/><circle cx="538.9" cy="300.4" r="10.62"/><circle cx="538.9" cy="287.2" r="10.62"/><circle cx="538.9" cy="274" r="10.62"/><circle cx="538.9" cy="260.8" r="10.62"/><circle cx="538.9" cy="247.6" r="10.62"/><circle cx="538.9" cy="234.5" r="10.62"/><circle cx="538.9" cy="221.3" r="10.62"/><circle cx="538.9" cy="208.1" r="10.62"/><circle cx="538.9" cy="194.9" r="10.62"/><circle cx="538.9" cy="181.7" r="10.62"/><circle cx="538.9" cy="168.5" r="10.62"/><circle cx="538.9" cy="155.3" r="10.62"/><circle cx="538.9" cy="142.2" r="10.62"/><circle cx="538.9" cy="129" r="10.62"/><circle cx="538.9" cy="115.8" r="10.62"/><circle cx="556.7" cy="498.2" r="10.62"/><circle cx="556.7" cy="485" r="10.62"/><circle cx="556.7" cy="471.8" r="10.62"/><circle cx="556.7" cy="458.6" r="10.62"/><circle cx="556.7" cy="445.4" r="10.62"/><circle cx="556.7" cy="432.3" r="10.62"/><circle cx="556.7" cy="419.1" r="10.62"/><circle cx="556.7" cy="405.9" r="10.62"/><circle cx="556.7" cy="392.7" r="10.62"/><circle cx="556.7" cy="379.5" r="10.62"/><circle cx="556.7" cy="366.3" r="10.62"/><circle cx="556.7" cy="353.1" r="10.62"/><circle cx="556.7" cy="340" r="10.62"/><circle cx="556.7" cy="326.8" r="10.62"/><circle cx="556.7" cy="313.6" r="10.62"/><circle cx="556.7" cy="300.4" r="10.62"/><circle cx="556.7" cy="287.2" r="10.62"/><circle cx="556.7" cy="274" r="10.62"/><circle cx="556.7" cy="260.8" r="10.62"/><circle cx="556.7" cy="247.6" r="10.62"/><circle cx="556.7" cy="234.5" r="10.62"/><circle cx="556.7" cy="221.3" r="10.62"/><circle cx="556.7" cy="208.1" r="10.62"/><circle cx="556.7" cy="194.9" r="10.62"/><circle cx="556.7" cy="181.7" r="10.62"/><circle cx="556.7" cy="155.3" r="10.62"/><circle cx="574.5" cy="498.2" r="10.62"/><circle cx="574.5" cy="471.8" r="10.62"/><circle cx="574.5" cy="458.6" r="10.62"/><circle cx="574.5" cy="445.4" r="10.62"/><circle cx="574.5" cy="432.3" r="10.62"/><circle cx="574.5" cy="419.1" r="10.62"/><circle cx="574.5" cy="405.9" r="10.62"/><circle cx="574.5" cy="392.7" r="10.62"/><circle cx="574.5" cy="379.5" r="10.62"/><circle cx="574.5" cy="366.3" r="10.62"/><circle cx="574.5" cy="353.1" r="10.62"/><circle cx="574.5" cy="340" r="10.62"/><circle cx="574.5" cy="326.8" r="10.62"/><circle cx="574.5" cy="313.6" r="10.62"/><circle cx="574.5" cy="300.4" r="10.62"/><circle cx="574.5" cy="287.2" r="10.62"/><circle cx="574.5" cy="274" r="10.62"/><circle cx="574.5" cy="260.8" r="10.62"/><circle cx="574.5" cy="247.6" r="10.62"/><circle cx="574.5" cy="234.5" r="10.62"/><circle cx="574.5" cy="221.3" r="10.62"/><circle cx="574.5" cy="208.1" r="10.62"/><circle cx="574.5" cy="179.1" r="10.62"/></g>
<g fill="#e64500"><circle cx="592.2" cy="537.1" r="10.62"/></g>
<g fill="#e61500"><circle cx="592.2" cy="517.3" r="10.62"/><circle cx="592.2" cy="488.3" r="10.62"/><circle cx="592.2" cy="463.9" r="10.62"/><circle cx="592.2" cy="441.5" r="10.62"/><circle cx="592.2" cy="430.3" r="10.62"/><circle cx="592.2" cy="418.4" r="10.62"/><circle cx="592.2" cy="384.8" r="10.62"/><circle cx="592.2" cy="297.1" r="10.62"/><circle cx="592.2" cy="287.2" r="10.62"/><circle cx="592.2" cy="274" r="10.62"/><circle cx="592.2" cy="260.8" r="10.62"/><circle cx="592.2" cy="247.6" r="10.62"/><circle cx="592.2" cy="234.5" r="10.62"/><circle cx="592.2" cy="221.3" r="10.62"/><circle cx="592.2" cy="208.1" r="10.62"/><circle cx="592.2" cy="199.5" r="10.62"/><circle cx="592.2" cy="181.7" r="10.62"/></g>
<g fill="#e63400"><circle cx="610" cy="510.1" r="10.62"/></g>
<g fill="#e61500"><circle cx="610" cy="497.5" r="10.62"/><circle cx="610" cy="469.2" r="10.62"/><circle cx="610" cy="448.7" r="10.62"/><circle cx="610" cy="427.6" r="10.62"/><circle cx="610" cy="409.8" r="10.62"/><circle cx="610" cy="370.3" r="10.62"/><circle cx="610" cy="349.8" r="10.62"/><circle cx="610" cy="325.4" r="10.62"/><circle cx="610" cy="305.7" r="10.62"/><circle cx="610" cy="284.6" r="10.62"/><circle cx="610" cy="270.7" r="10.62"/><circle cx="610" cy="257.5" r="10.62"/><circle cx="610" cy="242.4" r="10.62"/><circle cx="610" cy="227.2" r="10.62"/><circle cx="610" cy="200.2" r="10.62"/><circle cx="610" cy="179.1" r="10.62"/><circle cx="610" cy="161.9" r="10.62"/><circle cx="610" cy="148.8" r="10.62"/><circle cx="627.8" cy="518" r="10.62"/><circle cx="627.8" cy="504.8" r="10.62"/><circle cx="627.8" cy="491.6" r="10.62"/><circle cx="627.8" cy="477.7" r="10.62"/><circle cx="627.8" cy="450.1" r="10.62"/><circle cx="627.8" cy="432.3" r="10.62"/><circle cx="627.8" cy="404.6" r="10.62"/><circle cx="627.8" cy="384.8" r="10.62"/><circle cx="627.8" cy="357.1" r="10.62"/><circle cx="627.8" cy="338.6" r="10.62"/><circle cx="627.8" cy="320.2" r="10.62"/><circle cx="627.8" cy="292.5" r="10.62"/><circle cx="627.8" cy="272.7" r="10.62"/><circle cx="627.8" cy="252.9" r="10.62"/><circle cx="627.8" cy="233.8" r="10.62"/><circle cx="627.8" cy="206.1" r="10.62"/><circle cx="627.8" cy="187" r="10.62"/><circle cx="627.8" cy="167.9" r="10.62"/><circle cx="627.8" cy="140.2" r="10.62"/></g>
<g fill="#e66700"><circle cx="645.6" cy="531.1" r="10.62"/></g>
<g fill="#e61500"><circle cx="645.6" cy="497.5" r="10.62"/><circle cx="645.6" cy="452" r="10.62"/><circle cx="645.6" cy="420.4" r="10.62"/><circle cx="645.6" cy="403.2" r="10.62"/><circle cx="645.6" cy="384.1" r="10.62"/><circle cx="645.6" cy="365" r="10.62"/><circle cx="645.6" cy="337.3" r="10.62"/><circle cx="645.6" cy="317.5" r="10.62"/><circle cx="645.6" cy="296.4" r="10.62"/><circle cx="645.6" cy="276.7" r="10.62"/><circle cx="645.6" cy="257.5" r="10.62"/><circle cx="645.6" cy="230.5" r="10.62"/><circle cx="645.6" cy="209.4" r="10.62"/><circle cx="645.6" cy="189.6" r="10.62"/><circle cx="645.6" cy="165.2" r="10.62"/><circle cx="645.6" cy="148.8" r="10.62"/></g>
<g fill="#e62900"><circle cx="663.4" cy="517.3" r="10.62"/></g>
<g fill="#e61500"><circle cx="663.4" cy="452" r="10.62"/><circle cx="663.4" cy="421.7" r="10.62"/><circle cx="663.4" cy="407.9" r="10.62"/><circle cx="663.4" cy="390.1" r="10.62"/><circle cx="663.4" cy="371.6" r="10.62"/><circle cx="663.4" cy="351.2" r="10.62"/><circle cx="663.4" cy="330.1" r="10.62"/><circle cx="663.4" cy="313.6" r="10.62"/><circle cx="663.4" cy="290.5" r="10.62"/><circle cx="663.4" cy="269.4" r="10.62"/><circle cx="663.4" cy="244.4" r="10.62"/><circle cx="663.4" cy="225.9" r="10.62"/><circle cx="663.4" cy="197.5" r="10.62"/><circle cx="663.4" cy="180.4" r="10.62"/><circle cx="663.4" cy="159.3" r="10.62"/><circle cx="663.4" cy="141.5" r="10.62"/></g>
<g fill="#e65600"><circle cx="681.1" cy="504.8" r="10.62"/></g>
<g fill="#e62200"><circle cx="681.1" cy="480.4" r="10.62"/></g>
<g fill="#e61c00"><circle cx="681.1" cy="458" r="10.62"/><circle cx="681.1" cy="430.9" r="10.62"/><circle cx="681.1" cy="417.1" r="10.62"/><circle cx="681.1" cy="390.1" r="10.62"/><circle cx="681.1" cy="365.7" r="10.62"/><circle cx="681.1" cy="347.9" r="10.62"/><circle cx="681.1" cy="328.1" r="10.62"/></g>
<g fill="#e61500"><circle cx="681.1" cy="310.3" r="10.62"/><circle cx="681.1" cy="287.2" r="10.62"/><circle cx="681.1" cy="264.8" r="10.62"/><circle cx="681.1" cy="247.6" r="10.62"/><circle cx="681.1" cy="231.8" r="10.62"/><circle cx="681.1" cy="206.1" r="10.62"/><circle cx="681.1" cy="185" r="10.62"/><circle cx="681.1" cy="162.6" r="10.62"/><circle cx="681.1" cy="144.1" r="10.62"/></g>
<g fill="#e60700"><circle cx="681.1" cy="115.8" r="10.62"/><circle cx="681.1" cy="102.6" r="10.62"/><circle cx="681.1" cy="82.8" r="10.62"/><circle cx="681.1" cy="69.6" r="10.62"/><circle cx="681.1" cy="49.9" r="10.62"/></g>
<g fill="#e61c00"><circle cx="698.9" cy="490.3" r="10.62"/><circle cx="698.9" cy="471.8" r="10.62"/><circle cx="698.9" cy="453.4" r="10.62"/><circle cx="698.9" cy="438.8" r="10.62"/><circle cx="698.9" cy="423.7" r="10.62"/><circle cx="698.9" cy="409.8" r="10.62"/><circle cx="698.9" cy="397.3" r="10.62"/><circle cx="698.9" cy="377.5" r="10.62"/><circle cx="698.9" cy="364.3" r="10.62"/><circle cx="698.9" cy="352.5" r="10.62"/><circle cx="698.9" cy="340" r="10.62"/><circle cx="698.9" cy="325.4" r="10.62"/><circle cx="698.9" cy="312.9" r="10.62"/><circle cx="698.9" cy="299.7" r="10.62"/><circle cx="698.9" cy="285.9" r="10.62"/><circle cx="698.9" cy="272.7" r="10.62"/><circle cx="698.9" cy="260.8" r="10.62"/><circle cx="698.9" cy="250.9" r="10.62"/><circle cx="698.9" cy="237.8" r="10.62"/></g>
<g fill="#e66700"><circle cx="698.9" cy="182.4" r="10.62"/></g>
<g fill="#e60a00"><circle cx="698.9" cy="168.5" r="10.62"/></g>
<g fill="#e60700"><circle cx="698.9" cy="148.8" r="10.62"/><circle cx="698.9" cy="129" r="10.62"/><circle cx="698.9" cy="115.8" r="10.62"/><circle cx="698.9" cy="96" r="10.62"/><circle cx="698.9" cy="82.8" r="10.62"/><circle cx="698.9" cy="63" r="10.62"/><circle cx="698.9" cy="49.9" r="10.62"/></g>
<g fill="#e62900"><circle cx="716.7" cy="504.8" r="10.62"/><circle cx="716.7" cy="477.7" r="10.62"/></g>
<g fill="#e63400"><circle cx="716.7" cy="461.3" r="10.62"/></g>
<g fill="#e63e00"><circle cx="716.7" cy="444.8" r="10.62"/><circle cx="716.7" cy="430.9" r="10.62"/><circle cx="716.7" cy="417.7" r="10.62"/><circle cx="716.7" cy="403.9" r="10.62"/><circle cx="716.7" cy="390.1" r="10.62"/><circle cx="716.7" cy="364.3" r="10.62"/><circle cx="716.7" cy="358.4" r="10.62"/><circle cx="716.7" cy="346.5" r="10.62"/></g>
<g fill="#e63400"><circle cx="716.7" cy="285.9" r="10.62"/></g>
<g fill="#e61c00"><circle cx="716.7" cy="264.8" r="10.62"/></g>
<g fill="#e61500"><circle cx="716.7" cy="226.6" r="10.62"/></g>
<g fill="#e60700"><circle cx="716.7" cy="188.3" r="10.62"/><circle cx="716.7" cy="168.5" r="10.62"/><circle cx="716.7" cy="148.8" r="10.62"/><circle cx="716.7" cy="135.6" r="10.62"/><circle cx="716.7" cy="115.8" r="10.62"/><circle cx="716.7" cy="102.6" r="10.62"/><circle cx="716.7" cy="82.8" r="10.62"/><circle cx="716.7" cy="69.6" r="10.62"/><circle cx="716.7" cy="49.9" r="10.62"/><circle cx="716.7" cy="158.6" r="10.62"/></g>
<g fill="#e65600"><circle cx="734.5" cy="517.3" r="10.62"/></g>
<g fill="#e69b00"><circle cx="734.5" cy="492.9" r="10.62"/></g>
<g fill="#e6d500"><circle cx="734.5" cy="484.3" r="10.62"/></g>
<g fill="#e66700"><circle cx="734.5" cy="448.7" r="10.62"/></g>
<g fill="#e1e600"><circle cx="734.5" cy="463.9" r="10.62"/></g>
<g fill="#e63e00"><circle cx="734.5" cy="417.7" r="10.62"/><circle cx="734.5" cy="403.9" r="10.62"/></g>
<g fill="#e66700"><circle cx="734.5" cy="390.7" r="10.62"/></g>
<g fill="#e64c00"><circle cx="734.5" cy="345.2" r="10.62"/></g>
<g fill="#e67800"><circle cx="734.5" cy="274" r="10.62"/></g>
<g fill="#e69b00"><circle cx="734.5" cy="246.3" r="10.62"/><circle cx="734.5" cy="214" r="10.62"/></g>
<g fill="#e60a00"><circle cx="734.5" cy="201.5" r="10.62"/></g>
<g fill="#e60700"><circle cx="734.5" cy="188.3" r="10.62"/><circle cx="734.5" cy="168.5" r="10.62"/><circle cx="734.5" cy="148.8" r="10.62"/><circle cx="734.5" cy="135.6" r="10.62"/><circle cx="734.5" cy="115.8" r="10.62"/><circle cx="734.5" cy="102.6" r="10.62"/><circle cx="734.5" cy="82.8" r="10.62"/><circle cx="734.5" cy="69.6" r="10.62"/><circle cx="734.5" cy="49.9" r="10.62"/></g>
<g fill="#e64500"><circle cx="734.5" cy="430.9" r="10.62"/></g>
<g fill="#e60700"><circle cx="734.5" cy="158.6" r="10.62"/></g>
<g fill="#e63e00"><circle cx="752.3" cy="517.3" r="10.62"/><circle cx="752.3" cy="499.5" r="10.62"/><circle cx="752.3" cy="479.7" r="10.62"/></g>
<g fill="#e64500"><circle cx="752.3" cy="476.4" r="10.62"/></g>
<g fill="#e62900"><circle cx="752.3" cy="459.3" r="10.62"/><circle cx="752.3" cy="448.1" r="10.62"/><circle cx="752.3" cy="435.6" r="10.62"/><circle cx="752.3" cy="418.4" r="10.62"/></g>
<g fill="#e63e00"><circle cx="752.3" cy="390.7" r="10.62"/></g>
<g fill="#e64500"><circle cx="752.3" cy="338.6" r="10.62"/></g>
<g fill="#e61c00"><circle cx="752.3" cy="312.3" r="10.62"/></g>
<g fill="#e66700"><circle cx="752.3" cy="280.6" r="10.62"/></g>
<g fill="#e61c00"><circle cx="752.3" cy="252.9" r="10.62"/></g>
<g fill="#e64c00"><circle cx="752.3" cy="233.8" r="10.62"/></g>
<g fill="#e61500"><circle cx="752.3" cy="221.3" r="10.62"/></g>
<g fill="#e60700"><circle cx="752.3" cy="168.5" r="10.62"/><circle cx="752.3" cy="148.8" r="10.62"/><circle cx="752.3" cy="135.6" r="10.62"/><circle cx="752.3" cy="115.8" r="10.62"/><circle cx="752.3" cy="102.6" r="10.62"/><circle cx="752.3" cy="82.8" r="10.62"/><circle cx="752.3" cy="69.6" r="10.62"/><circle cx="752.3" cy="49.9" r="10.62"/></g>
<g fill="#e69100"><circle cx="770" cy="538.4" r="10.62"/></g>
<g fill="#e68a00"><circle cx="770" cy="517.3" r="10.62"/></g>
<g fill="#e66000"><circle cx="770" cy="491.6" r="10.62"/></g>
<g fill="#e64c00"><circle cx="770" cy="444.1" r="10.62"/></g>
<g fill="#e62900"><circle cx="770" cy="430.9" r="10.62"/></g>
<g fill="#e64500"><circle cx="770" cy="403.2" r="10.62"/><circle cx="770" cy="372.9" r="10.62"/></g>
<g fill="#e65600"><circle cx="770" cy="358.4" r="10.62"/></g>
<g fill="#e66700"><circle cx="770" cy="299.7" r="10.62"/><circle cx="770" cy="279.3" r="10.62"/></g>
<g fill="#e60700"><circle cx="770" cy="201.5" r="10.62"/><circle cx="770" cy="188.3" r="10.62"/><circle cx="770" cy="168.5" r="10.62"/><circle cx="770" cy="148.8" r="10.62"/><circle cx="770" cy="135.6" r="10.62"/><circle cx="770" cy="115.8" r="10.62"/><circle cx="770" cy="102.6" r="10.62"/><circle cx="770" cy="82.8" r="10.62"/><circle cx="770" cy="69.6" r="10.62"/><circle cx="770" cy="49.9" r="10.62"/></g>
<g fill="#e64c00"><circle cx="770" cy="458" r="10.62"/></g>
<g fill="#e64500"><circle cx="770" cy="417.1" r="10.62"/><circle cx="770" cy="389.4" r="10.62"/></g>
<g fill="#e65600"><circle cx="787.8" cy="485.7" r="10.62"/></g>
<g fill="#e64500"><circle cx="787.8" cy="473.1" r="10.62"/></g>
<g fill="#e62200"><circle cx="787.8" cy="463.9" r="10.62"/></g>
<g fill="#e62900"><circle cx="787.8" cy="423" r="10.62"/></g>
<g fill="#e64c00"><circle cx="787.8" cy="397.3" r="10.62"/><circle cx="787.8" cy="379.5" r="10.62"/><circle cx="787.8" cy="332" r="10.62"/></g>
<g fill="#e63400"><circle cx="787.8" cy="285.9" r="10.62"/><circle cx="787.8" cy="279.3" r="10.62"/></g>
<g fill="#e60700"><circle cx="787.8" cy="234.5" r="10.62"/><circle cx="787.8" cy="214.7" r="10.62"/><circle cx="787.8" cy="201.5" r="10.62"/><circle cx="787.8" cy="181.7" r="10.62"/><circle cx="787.8" cy="168.5" r="10.62"/><circle cx="787.8" cy="148.8" r="10.62"/><circle cx="787.8" cy="129" r="10.62"/><circle cx="787.8" cy="115.8" r="10.62"/><circle cx="787.8" cy="96" r="10.62"/><circle cx="787.8" cy="82.8" r="10.62"/><circle cx="787.8" cy="63" r="10.62"/><circle cx="787.8" cy="49.9" r="10.62"/></g>
<g fill="#e64c00"><circle cx="787.8" cy="410.5" r="10.62"/></g>
<g fill="#e68a00"><circle cx="805.6" cy="479.7" r="10.62"/></g>
<g fill="#e68300"><circle cx="805.6" cy="476.4" r="10.62"/></g>
<g fill="#e66700"><circle cx="805.6" cy="452" r="10.62"/></g>
<g fill="#e63e00"><circle cx="805.6" cy="436.9" r="10.62"/></g>
<g fill="#e64500"><circle cx="805.6" cy="412.5" r="10.62"/><circle cx="805.6" cy="397.3" r="10.62"/></g>
<g fill="#e66700"><circle cx="805.6" cy="377.5" r="10.62"/></g>
<g fill="#e60700"><circle cx="805.6" cy="234.5" r="10.62"/><circle cx="805.6" cy="221.3" r="10.62"/><circle cx="805.6" cy="201.5" r="10.62"/><circle cx="805.6" cy="188.3" r="10.62"/><circle cx="805.6" cy="168.5" r="10.62"/><circle cx="805.6" cy="148.8" r="10.62"/><circle cx="805.6" cy="135.6" r="10.62"/><circle cx="805.6" cy="115.8" r="10.62"/><circle cx="805.6" cy="102.6" r="10.62"/><circle cx="805.6" cy="82.8" r="10.62"/><circle cx="805.6" cy="69.6" r="10.62"/><circle cx="805.6" cy="49.9" r="10.62"/></g>
<g fill="#e64500"><circle cx="805.6" cy="425.7" r="10.62"/></g>
<g fill="#e66700"><circle cx="805.6" cy="465.2" r="10.62"/></g>
<g fill="#e63400"><circle cx="823.4" cy="442.8" r="10.62"/></g>
<g fill="#e64c00"><circle cx="823.4" cy="421.7" r="10.62"/><circle cx="823.4" cy="411.2" r="10.62"/><circle cx="823.4" cy="326.1" r="10.62"/></g>
<g fill="#e60700"><circle cx="823.4" cy="274" r="10.62"/><circle cx="823.4" cy="254.2" r="10.62"/><circle cx="823.4" cy="234.5" r="10.62"/><circle cx="823.4" cy="221.3" r="10.62"/><circle cx="823.4" cy="201.5" r="10.62"/><circle cx="823.4" cy="188.3" r="10.62"/><circle cx="823.4" cy="168.5" r="10.62"/><circle cx="823.4" cy="148.8" r="10.62"/><circle cx="823.4" cy="135.6" r="10.62"/><circle cx="823.4" cy="115.8" r="10.62"/><circle cx="823.4" cy="102.6" r="10.62"/><circle cx="823.4" cy="82.8" r="10.62"/><circle cx="823.4" cy="69.6" r="10.62"/><circle cx="823.4" cy="49.9" r="10.62"/></g>
<g fill="#e63400"><circle cx="823.4" cy="450.7" r="10.62"/></g>
<g fill="#e63e00"><circle cx="823.4" cy="433.6" r="10.62"/></g>
<g fill="#e68300"><circle cx="841.2" cy="479.7" r="10.62"/></g>
<g fill="#e67800"><circle cx="841.2" cy="476.4" r="10.62"/><circle cx="841.2" cy="462.6" r="10.62"/></g>
<g fill="#e65600"><circle cx="841.2" cy="436.9" r="10.62"/></g>
<g fill="#e66000"><circle cx="841.2" cy="346.5" r="10.62"/></g>
<g fill="#e60700"><circle cx="841.2" cy="287.2" r="10.62"/><circle cx="841.2" cy="274" r="10.62"/><circle cx="841.2" cy="254.2" r="10.62"/><circle cx="841.2" cy="234.5" r="10.62"/><circle cx="841.2" cy="221.3" r="10.62"/><circle cx="841.2" cy="201.5" r="10.62"/><circle cx="841.2" cy="188.3" r="10.62"/><circle cx="841.2" cy="168.5" r="10.62"/><circle cx="841.2" cy="148.8" r="10.62"/><circle cx="841.2" cy="135.6" r="10.62"/><circle cx="841.2" cy="115.8" r="10.62"/><circle cx="841.2" cy="102.6" r="10.62"/><circle cx="841.2" cy="82.8" r="10.62"/><circle cx="841.2" cy="69.6" r="10.62"/><circle cx="841.2" cy="49.9" r="10.62"/></g>
<g fill="#e62900"><circle cx="858.9" cy="465.9" r="10.62"/><circle cx="858.9" cy="444.8" r="10.62"/></g>
<g fill="#e61c00"><circle cx="858.9" cy="353.1" r="10.62"/></g>
<g fill="#e60a00"><circle cx="858.9" cy="320.2" r="10.62"/></g>
<g fill="#e60700"><circle cx="858.9" cy="307" r="10.62"/><circle cx="858.9" cy="287.2" r="10.62"/><circle cx="858.9" cy="274" r="10.62"/><circle cx="858.9" cy="254.2" r="10.62"/><circle cx="858.9" cy="234.5" r="10.62"/><circle cx="858.9" cy="221.3" r="10.62"/><circle cx="858.9" cy="201.5" r="10.62"/><circle cx="858.9" cy="188.3" r="10.62"/><circle cx="858.9" cy="168.5" r="10.62"/><circle cx="858.9" cy="148.8" r="10.62"/><circle cx="858.9" cy="135.6" r="10.62"/><circle cx="858.9" cy="115.8" r="10.62"/><circle cx="858.9" cy="102.6" r="10.62"/><circle cx="858.9" cy="82.8" r="10.62"/><circle cx="858.9" cy="69.6" r="10.62"/><circle cx="858.9" cy="49.9" r="10.62"/></g>
<g fill="#e69b00"><circle cx="876.7" cy="492.9" r="10.62"/></g>
<g fill="#b8e600"><circle cx="876.7" cy="485" r="10.62"/></g>
<g fill="#e64c00"><circle cx="876.7" cy="464.6" r="10.62"/></g>
<g fill="#e65600"><circle cx="876.7" cy="444.8" r="10.62"/></g>
<g fill="#e68300"><circle cx="876.7" cy="405.2" r="10.62"/></g>
<g fill="#e61500"><circle cx="876.7" cy="365.7" r="10.62"/><circle cx="876.7" cy="339.3" r="10.62"/></g>
<g fill="#e60700"><circle cx="876.7" cy="300.4" r="10.62"/><circle cx="876.7" cy="287.2" r="10.62"/><circle cx="876.7" cy="267.4" r="10.62"/><circle cx="876.7" cy="247.6" r="10.62"/><circle cx="876.7" cy="234.5" r="10.62"/><circle cx="876.7" cy="214.7" r="10.62"/><circle cx="876.7" cy="201.5" r="10.62"/><circle cx="876.7" cy="181.7" r="10.62"/><circle cx="876.7" cy="168.5" r="10.62"/><circle cx="876.7" cy="148.8" r="10.62"/><circle cx="876.7" cy="129" r="10.62"/><circle cx="876.7" cy="115.8" r="10.62"/><circle cx="876.7" cy="96" r="10.62"/><circle cx="876.7" cy="82.8" r="10.62"/><circle cx="876.7" cy="63" r="10.62"/><circle cx="876.7" cy="49.9" r="10.62"/></g>
<g fill="#e64c00"><circle cx="894.5" cy="481" r="10.62"/></g>
<g fill="#e65600"><circle cx="894.5" cy="471.8" r="10.62"/></g>
<g fill="#e69b00"><circle cx="894.5" cy="457.3" r="10.62"/></g>
<g fill="#e61c00"><circle cx="894.5" cy="411.8" r="10.62"/></g>
<g fill="#e60700"><circle cx="894.5" cy="340" r="10.62"/><circle cx="894.5" cy="320.2" r="10.62"/><circle cx="894.5" cy="307" r="10.62"/><circle cx="894.5" cy="287.2" r="10.62"/><circle cx="894.5" cy="274" r="10.62"/><circle cx="894.5" cy="254.2" r="10.62"/><circle cx="894.5" cy="234.5" r="10.62"/><circle cx="894.5" cy="221.3" r="10.62"/><circle cx="894.5" cy="201.5" r="10.62"/><circle cx="894.5" cy="188.3" r="10.62"/><circle cx="894.5" cy="168.5" r="10.62"/><circle cx="894.5" cy="148.8" r="10.62"/><circle cx="894.5" cy="135.6" r="10.62"/><circle cx="894.5" cy="115.8" r="10.62"/><circle cx="894.5" cy="102.6" r="10.62"/><circle cx="894.5" cy="82.8" r="10.62"/><circle cx="894.5" cy="69.6" r="10.62"/><circle cx="894.5" cy="49.9" r="10.62"/></g>
<g fill="#e65600"><circle cx="912.3" cy="491.6" r="10.62"/><circle cx="912.3" cy="487" r="10.62"/></g>
<g fill="#e61c00"><circle cx="912.3" cy="404.6" r="10.62"/></g>
<g fill="#e60700"><circle cx="912.3" cy="353.1" r="10.62"/><circle cx="912.3" cy="340" r="10.62"/><circle cx="912.3" cy="320.2" r="10.62"/><circle cx="912.3" cy="307" r="10.62"/><circle cx="912.3" cy="287.2" r="10.62"/><circle cx="912.3" cy="274" r="10.62"/><circle cx="912.3" cy="254.2" r="10.62"/><circle cx="912.3" cy="234.5" r="10.62"/><circle cx="912.3" cy="221.3" r="10.62"/><circle cx="912.3" cy="201.5" r="10.62"/><circle cx="912.3" cy="188.3" r="10.62"/><circle cx="912.3" cy="168.5" r="10.62"/><circle cx="912.3" cy="148.8" r="10.62"/><circle cx="912.3" cy="135.6" r="10.62"/><circle cx="912.3" cy="115.8" r="10.62"/><circle cx="912.3" cy="102.6" r="10.62"/><circle cx="912.3" cy="82.8" r="10.62"/><circle cx="912.3" cy="69.6" r="10.62"/><circle cx="912.3" cy="49.9" r="10.62"/></g>
<g fill="#e62200"><circle cx="930.1" cy="478.4" r="10.62"/></g>
<g fill="#e61500"><circle cx="930.1" cy="366.3" r="10.62"/></g>
<g fill="#e62900"><circle cx="930.1" cy="353.1" r="10.62"/></g>
<g fill="#e60700"><circle cx="930.1" cy="326.8" r="10.62"/><circle cx="930.1" cy="313.6" r="10.62"/><circle cx="930.1" cy="293.8" r="10.62"/><circle cx="930.1" cy="280.6" r="10.62"/><circle cx="930.1" cy="260.8" r="10.62"/><circle cx="930.1" cy="241.1" r="10.62"/><circle cx="930.1" cy="227.9" r="10.62"/><circle cx="930.1" cy="208.1" r="10.62"/><circle cx="930.1" cy="194.9" r="10.62"/><circle cx="930.1" cy="175.1" r="10.62"/><circle cx="930.1" cy="155.3" r="10.62"/><circle cx="930.1" cy="142.2" r="10.62"/><circle cx="930.1" cy="122.4" r="10.62"/><circle cx="930.1" cy="109.2" r="10.62"/><circle cx="930.1" cy="89.4" r="10.62"/><circle cx="930.1" cy="76.2" r="10.62"/><circle cx="930.1" cy="56.5" r="10.62"/></g>
<g fill="#e64c00"><circle cx="947.8" cy="505.4" r="10.62"/></g>
<g fill="#e62200"><circle cx="947.8" cy="491.6" r="10.62"/></g>
<g fill="#e62900"><circle cx="947.8" cy="471.8" r="10.62"/></g>
<g fill="#e62200"><circle cx="947.8" cy="404.6" r="10.62"/></g>
<g fill="#e61100"><circle cx="947.8" cy="392" r="10.62"/></g>
<g fill="#e60700"><circle cx="947.8" cy="372.9" r="10.62"/><circle cx="947.8" cy="353.1" r="10.62"/><circle cx="947.8" cy="340" r="10.62"/><circle cx="947.8" cy="320.2" r="10.62"/><circle cx="947.8" cy="307" r="10.62"/><circle cx="947.8" cy="287.2" r="10.62"/><circle cx="947.8" cy="274" r="10.62"/><circle cx="947.8" cy="254.2" r="10.62"/><circle cx="947.8" cy="234.5" r="10.62"/><circle cx="947.8" cy="221.3" r="10.62"/><circle cx="947.8" cy="201.5" r="10.62"/><circle cx="947.8" cy="188.3" r="10.62"/><circle cx="947.8" cy="168.5" r="10.62"/><circle cx="947.8" cy="148.8" r="10.62"/><circle cx="947.8" cy="135.6" r="10.62"/><circle cx="947.8" cy="115.8" r="10.62"/><circle cx="947.8" cy="102.6" r="10.62"/><circle cx="947.8" cy="82.8" r="10.62"/><circle cx="947.8" cy="69.6" r="10.62"/><circle cx="947.8" cy="49.9" r="10.62"/></g>
<g fill="#e68300"><circle cx="965.6" cy="491.6" r="10.62"/></g>
<g fill="#e61500"><circle cx="965.6" cy="423.7" r="10.62"/></g>
<g fill="#e61100"><circle cx="965.6" cy="386.1" r="10.62"/></g>
<g fill="#e60700"><circle cx="965.6" cy="372.9" r="10.62"/><circle cx="965.6" cy="353.1" r="10.62"/><circle cx="965.6" cy="320.2" r="10.62"/><circle cx="965.6" cy="307" r="10.62"/><circle cx="965.6" cy="287.2" r="10.62"/><circle cx="965.6" cy="274" r="10.62"/><circle cx="965.6" cy="254.2" r="10.62"/><circle cx="965.6" cy="234.5" r="10.62"/><circle cx="965.6" cy="221.3" r="10.62"/><circle cx="965.6" cy="201.5" r="10.62"/><circle cx="965.6" cy="188.3" r="10.62"/><circle cx="965.6" cy="168.5" r="10.62"/><circle cx="965.6" cy="148.8" r="10.62"/><circle cx="965.6" cy="135.6" r="10.62"/><circle cx="965.6" cy="115.8" r="10.62"/><circle cx="965.6" cy="102.6" r="10.62"/><circle cx="965.6" cy="82.8" r="10.62"/><circle cx="965.6" cy="69.6" r="10.62"/><circle cx="965.6" cy="49.9" r="10.62"/></g>
<g fill="#e60a00"><circle cx="965.6" cy="399.9" r="10.62"/></g>
<g fill="#e62900"><circle cx="983.4" cy="405.9" r="10.62"/><circle cx="983.4" cy="392.7" r="10.62"/><circle cx="983.4" cy="372.9" r="10.62"/><circle cx="983.4" cy="353.1" r="10.62"/><circle cx="983.4" cy="340" r="10.62"/><circle cx="983.4" cy="320.2" r="10.62"/><circle cx="983.4" cy="307" r="10.62"/><circle cx="983.4" cy="287.2" r="10.62"/><circle cx="983.4" cy="274" r="10.62"/><circle cx="983.4" cy="254.2" r="10.62"/><circle cx="983.4" cy="234.5" r="10.62"/><circle cx="983.4" cy="221.3" r="10.62"/><circle cx="983.4" cy="201.5" r="10.62"/><circle cx="983.4" cy="188.3" r="10.62"/><circle cx="983.4" cy="168.5" r="10.62"/><circle cx="983.4" cy="148.8" r="10.62"/><circle cx="983.4" cy="135.6" r="10.62"/><circle cx="983.4" cy="115.8" r="10.62"/><circle cx="983.4" cy="102.6" r="10.62"/><circle cx="983.4" cy="82.8" r="10.62"/><circle cx="983.4" cy="69.6" r="10.62"/><circle cx="983.4" cy="49.9" r="10.62"/></g>
<g fill="#e63e00"><circle cx="983.4" cy="418.4" r="10.62"/></g>
</g>
<g id="mainover"><rect x="308.8" y="30" width="104.89999999999998" height="111.80000000000001" fill="#fff"/>
<rect x="486.6" y="30" width="103.39999999999998" height="111.80000000000001" fill="#fff"/>
<rect x="590" y="30" width="91.20000000000005" height="111.80000000000001" fill="#fff"/>
<circle cx="538.9" cy="550.9" r="16.7" fill="#fff" stroke="#000" stroke-width="4.3"/><path d="M531.4 543.4l15 15m0 -15l-15 15" stroke="#000" stroke-width="4.6" fill="none"/>
<rect x="356.2" y="120.7" width="9.8" height="456.6" fill="#262626" fill-opacity="0.68"/><text class="sf" font-size="33.7" transform="translate(373.4 112.5) rotate(-90)" x="0" y="0" stroke="#000" stroke-width="0.3">HO</text>
<rect x="534" y="132.8" width="9.8" height="444.5" fill="#262626" fill-opacity="0.68"/><text class="sf" font-size="33.7" transform="translate(551.2 124.6) rotate(-90)" x="0" y="0" stroke="#000" stroke-width="0.3">TDc</text>
<rect x="622.9" y="118.8" width="9.8" height="458.5" fill="#262626" fill-opacity="0.68"/><text class="sf" font-size="33.7" transform="translate(640.1 110.6) rotate(-90)" x="0" y="0" stroke="#000" stroke-width="0.3">TO</text></g>
<text class="cm" font-size="34" x="94.4" y="615.8" text-anchor="middle" stroke="#000" stroke-width="0.7" stroke-linejoin="round">0</text>
<text class="cm" font-size="34" x="272.2" y="615.8" text-anchor="middle" stroke="#000" stroke-width="0.7" stroke-linejoin="round">20</text>
<text class="cm" font-size="34" x="450" y="615.8" text-anchor="middle" stroke="#000" stroke-width="0.7" stroke-linejoin="round">40</text>
<text class="cm" font-size="34" x="627.8" y="615.8" text-anchor="middle" stroke="#000" stroke-width="0.7" stroke-linejoin="round">60</text>
<text class="cm" font-size="34" x="805.6" y="615.8" text-anchor="middle" stroke="#000" stroke-width="0.7" stroke-linejoin="round">80</text>
<text class="cm" font-size="34" x="983.4" y="615.8" text-anchor="middle" stroke="#000" stroke-width="0.7" stroke-linejoin="round">100</text>
<text class="cm" font-size="34" x="83.1" y="585.7" text-anchor="end" stroke="#000" stroke-width="0.7" stroke-linejoin="round">0</text>
<text class="cm" font-size="34" x="83.1" y="453.8" text-anchor="end" stroke="#000" stroke-width="0.7" stroke-linejoin="round">20</text>
<text class="cm" font-size="34" x="83.1" y="322" text-anchor="end" stroke="#000" stroke-width="0.7" stroke-linejoin="round">40</text>
<text class="cm" font-size="34" x="83.1" y="190.1" text-anchor="end" stroke="#000" stroke-width="0.7" stroke-linejoin="round">60</text>
<text class="cm" font-size="34" x="83.1" y="58.3" text-anchor="end" stroke="#000" stroke-width="0.7" stroke-linejoin="round">80</text>
<text class="cm" font-size="35" x="399.5" y="657.5" textLength="277.5" lengthAdjust="spacingAndGlyphs" stroke="#000" stroke-width="0.7" stroke-linejoin="round"><tspan font-style="italic">gc</tspan><tspan font-size="32.9" dy="9.5">off</tspan><tspan dy="-9.5">&#8202;</tspan>&#8201;(% gait cycle)</text>
<text class="cm" font-size="35" transform="translate(31.6 444.5) rotate(-90)" textLength="256.2" lengthAdjust="spacingAndGlyphs" stroke="#000" stroke-width="0.7" stroke-linejoin="round"><tspan font-style="italic">t</tspan><tspan font-size="32.9" dy="9.5">off</tspan><tspan dy="-9.5">&#8202;</tspan>&#8201;(% gait cycle)</text>
<defs><linearGradient id="gscore" x1="0" y1="1" x2="0" y2="0">
<stop offset="0%" stop-color="#e60000"/>
<stop offset="5%" stop-color="#e61100"/>
<stop offset="10%" stop-color="#e62200"/>
<stop offset="15%" stop-color="#e63400"/>
<stop offset="20%" stop-color="#e64500"/>
<stop offset="25%" stop-color="#e65600"/>
<stop offset="30%" stop-color="#e66700"/>
<stop offset="35%" stop-color="#e67800"/>
<stop offset="40%" stop-color="#e68a00"/>
<stop offset="45%" stop-color="#e69b00"/>
<stop offset="50%" stop-color="#e6ac00"/>
<stop offset="55%" stop-color="#e6bd00"/>
<stop offset="60%" stop-color="#e6cf00"/>
<stop offset="65%" stop-color="#e6e000"/>
<stop offset="70%" stop-color="#dae600"/>
<stop offset="75%" stop-color="#c9e600"/>
<stop offset="80%" stop-color="#b8e600"/>
<stop offset="85%" stop-color="#a6e600"/>
<stop offset="90%" stop-color="#95e600"/>
<stop offset="95%" stop-color="#84e600"/>
<stop offset="100%" stop-color="#73e600"/>
</linearGradient>
<linearGradient id="gpar" x1="0" y1="1" x2="0" y2="0">
<stop offset="0.00%" stop-color="#39239b"/>
<stop offset="3.12%" stop-color="#3c2bb0"/>
<stop offset="6.25%" stop-color="#3f32c4"/>
<stop offset="9.38%" stop-color="#413cd2"/>
<stop offset="12.50%" stop-color="#4246dc"/>
<stop offset="15.62%" stop-color="#4250e3"/>
<stop offset="18.75%" stop-color="#405ae8"/>
<stop offset="21.88%" stop-color="#3a65ea"/>
<stop offset="25.00%" stop-color="#2f70e9"/>
<stop offset="28.12%" stop-color="#2a7be4"/>
<stop offset="31.25%" stop-color="#2884dd"/>
<stop offset="34.38%" stop-color="#238dd6"/>
<stop offset="37.50%" stop-color="#1e96d1"/>
<stop offset="40.62%" stop-color="#189ecb"/>
<stop offset="43.75%" stop-color="#0ba5c2"/>
<stop offset="46.88%" stop-color="#01aab7"/>
<stop offset="50.00%" stop-color="#10afaa"/>
<stop offset="53.12%" stop-color="#24b39d"/>
<stop offset="56.25%" stop-color="#30b78f"/>
<stop offset="59.38%" stop-color="#3eba7f"/>
<stop offset="62.50%" stop-color="#54bc6d"/>
<stop offset="65.62%" stop-color="#6dbc58"/>
<stop offset="68.75%" stop-color="#88ba44"/>
<stop offset="71.88%" stop-color="#a1b632"/>
<stop offset="75.00%" stop-color="#b8b226"/>
<stop offset="78.12%" stop-color="#cdad26"/>
<stop offset="81.25%" stop-color="#deab33"/>
<stop offset="84.38%" stop-color="#eaaf37"/>
<stop offset="87.50%" stop-color="#e9ba2f"/>
<stop offset="90.62%" stop-color="#e5c529"/>
<stop offset="93.75%" stop-color="#e1d124"/>
<stop offset="96.88%" stop-color="#e2dc1e"/>
<stop offset="100.00%" stop-color="#e5e713"/>
</linearGradient></defs>
<rect x="1036.2" y="49.2" width="41" height="528.2" fill="url(#gscore)" stroke="#000" stroke-width="1.5"/>
<text class="sf" font-size="27.2" x="1089.8" y="587.2" text-anchor="start" letter-spacing="0.35">0</text>
<path d="M1077.2 471.8h-5.5" stroke="#000" stroke-width="1.3"/>
<text class="sf" font-size="27.2" x="1089.8" y="481.6" text-anchor="start" letter-spacing="0.35">20</text>
<path d="M1077.2 366.1h-5.5" stroke="#000" stroke-width="1.3"/>
<text class="sf" font-size="27.2" x="1089.8" y="375.9" text-anchor="start" letter-spacing="0.35">40</text>
<path d="M1077.2 260.5h-5.5" stroke="#000" stroke-width="1.3"/>
<text class="sf" font-size="27.2" x="1089.8" y="270.3" text-anchor="start" letter-spacing="0.35">60</text>
<path d="M1077.2 154.8h-5.5" stroke="#000" stroke-width="1.3"/>
<text class="sf" font-size="27.2" x="1089.8" y="164.6" text-anchor="start" letter-spacing="0.35">80</text>
<text class="sf" font-size="27.2" x="1089.8" y="60.8" text-anchor="start" letter-spacing="0.35">100</text>
<text class="cm" font-size="35" transform="translate(1177.2 418.8) rotate(-90)" textLength="209.8" lengthAdjust="spacingAndGlyphs" stroke="#000" stroke-width="0.7" stroke-linejoin="round">Score (% <tspan font-style="italic">t</tspan><tspan font-size="32.9" dy="9.5">sim</tspan><tspan dy="-9.5">&#8202;</tspan>)</text>
<g id="small1">
<path d="M1367.7 40.4h-6.4V251.6H1817.3" fill="none" stroke="#000" stroke-width="1.5"/>
<path d="M1361.3 146h6.4" fill="none" stroke="#000" stroke-width="1.5"/>
<g fill="#51bc70"><circle cx="1361.3" cy="251.6" r="6.85"/><circle cx="1361.3" cy="241" r="6.85"/><circle cx="1361.3" cy="230.5" r="6.85"/><circle cx="1361.3" cy="219.9" r="6.85"/><circle cx="1361.3" cy="209.4" r="6.85"/><circle cx="1361.3" cy="198.8" r="6.85"/><circle cx="1361.3" cy="187.7" r="6.85"/></g>
<g fill="#42bb7b"><circle cx="1370.4" cy="251.6" r="6.85"/></g>
<g fill="#2cb595"><circle cx="1370.4" cy="241" r="6.85"/></g>
<g fill="#2f70e9"><circle cx="1370.4" cy="230.5" r="6.85"/><circle cx="1370.4" cy="224.1" r="6.85"/><circle cx="1370.4" cy="213.6" r="6.85"/></g>
<g fill="#13a1c8"><circle cx="1370.4" cy="203" r="6.85"/></g>
<g fill="#37b986"><circle cx="1379.5" cy="251.6" r="6.85"/></g>
<g fill="#2b77e6"><circle cx="1379.5" cy="241" r="6.85"/></g>
<g fill="#3e5fe9"><circle cx="1379.5" cy="233.1" r="6.85"/><circle cx="1379.5" cy="225.2" r="6.85"/></g>
<g fill="#82bb49"><circle cx="1388.7" cy="208.8" r="6.85"/></g>
<g fill="#42bb7b"><circle cx="1388.7" cy="251.6" r="6.85"/></g>
<g fill="#199ccd"><circle cx="1388.7" cy="241" r="6.85"/><circle cx="1388.7" cy="228.9" r="6.85"/></g>
<g fill="#42bb7b"><circle cx="1397.8" cy="251.6" r="6.85"/></g>
<g fill="#51bc70"><circle cx="1397.8" cy="240" r="6.85"/></g>
<g fill="#424ee2"><circle cx="1397.8" cy="182.4" r="6.85"/></g>
<g fill="#51bc70"><circle cx="1406.9" cy="251.6" r="6.85"/></g>
<g fill="#d7ac2d"><circle cx="1406.9" cy="241" r="6.85"/></g>
<g fill="#e3e01a"><circle cx="1406.9" cy="229.4" r="6.85"/></g>
<g fill="#51bc70"><circle cx="1416" cy="251.6" r="6.85"/></g>
<g fill="#eab135"><circle cx="1416" cy="241" r="6.85"/></g>
<g fill="#e2dc1d"><circle cx="1416" cy="229.4" r="6.85"/></g>
<g fill="#42bb7b"><circle cx="1425.1" cy="251.6" r="6.85"/></g>
<g fill="#e3e01a"><circle cx="1425.1" cy="240" r="6.85"/></g>
<g fill="#51bc70"><circle cx="1434.3" cy="251.6" r="6.85"/></g>
<g fill="#42bb7b"><circle cx="1443.4" cy="251.6" r="6.85"/></g>
<g fill="#49bb76"><circle cx="1452.5" cy="251.6" r="6.85"/></g>
<g fill="#51bc70"><circle cx="1461.6" cy="251.6" r="6.85"/></g>
<g fill="#42bb7b"><circle cx="1470.7" cy="251.6" r="6.85"/></g>
<g fill="#e2ab36"><circle cx="1470.7" cy="240" r="6.85"/></g>
<g fill="#51bc70"><circle cx="1479.9" cy="251.6" r="6.85"/></g>
<g fill="#82bb49"><circle cx="1479.9" cy="241" r="6.85"/></g>
<g fill="#e9ae38"><circle cx="1479.9" cy="230" r="6.85"/><circle cx="1479.9" cy="219.9" r="6.85"/></g>
<g fill="#eab135"><circle cx="1479.9" cy="208.8" r="6.85"/></g>
<g fill="#ccad26"><circle cx="1479.9" cy="197.7" r="6.85"/></g>
<g fill="#e9ae38"><circle cx="1479.9" cy="187.2" r="6.85"/></g>
<g fill="#51bc70"><circle cx="1489" cy="251.6" r="6.85"/></g>
<g fill="#60bc63"><circle cx="1489" cy="241" r="6.85"/></g>
<g fill="#71bc56"><circle cx="1489" cy="230.5" r="6.85"/></g>
<g fill="#8aba43"><circle cx="1489" cy="219.9" r="6.85"/><circle cx="1489" cy="209.4" r="6.85"/><circle cx="1489" cy="198.8" r="6.85"/><circle cx="1489" cy="188.2" r="6.85"/></g>
<g fill="#b1b329"><circle cx="1489" cy="177.2" r="6.85"/></g>
<g fill="#42bb7b"><circle cx="1498.1" cy="251.6" r="6.85"/></g>
<g fill="#32b88c"><circle cx="1498.1" cy="241" r="6.85"/><circle cx="1498.1" cy="230.5" r="6.85"/><circle cx="1498.1" cy="219.9" r="6.85"/><circle cx="1498.1" cy="209.4" r="6.85"/></g>
<g fill="#37b986"><circle cx="1498.1" cy="198.8" r="6.85"/></g>
<g fill="#51bc70"><circle cx="1507.2" cy="251.6" r="6.85"/></g>
<g fill="#42bb7b"><circle cx="1507.2" cy="241" r="6.85"/></g>
<g fill="#2cb595"><circle cx="1507.2" cy="230.5" r="6.85"/></g>
<g fill="#28b49a"><circle cx="1507.2" cy="219.9" r="6.85"/></g>
<g fill="#2cb595"><circle cx="1507.2" cy="209.4" r="6.85"/></g>
<g fill="#68bc5c"><circle cx="1507.2" cy="197.7" r="6.85"/></g>
<g fill="#79bb4f"><circle cx="1507.2" cy="177.2" r="6.85"/></g>
<g fill="#42bb7b"><circle cx="1516.3" cy="251.6" r="6.85"/></g>
<g fill="#32b88c"><circle cx="1516.3" cy="241" r="6.85"/></g>
<g fill="#2fb790"><circle cx="1516.3" cy="230.5" r="6.85"/></g>
<g fill="#2cb595"><circle cx="1516.3" cy="219.9" r="6.85"/></g>
<g fill="#60bc63"><circle cx="1516.3" cy="208.3" r="6.85"/></g>
<g fill="#b1b329"><circle cx="1516.3" cy="187.7" r="6.85"/></g>
<g fill="#42bb7b"><circle cx="1525.5" cy="251.6" r="6.85"/></g>
<g fill="#32b88c"><circle cx="1525.5" cy="241" r="6.85"/></g>
<g fill="#42bb7b"><circle cx="1525.5" cy="230.5" r="6.85"/></g>
<g fill="#92b93c"><circle cx="1525.5" cy="219.9" r="6.85"/></g>
<g fill="#b8b226"><circle cx="1525.5" cy="193" r="6.85"/></g>
<g fill="#92b93c"><circle cx="1525.5" cy="182.4" r="6.85"/></g>
<g fill="#42bb7b"><circle cx="1534.6" cy="251.6" r="6.85"/></g>
<g fill="#37b986"><circle cx="1534.6" cy="241" r="6.85"/></g>
<g fill="#60bc63"><circle cx="1534.6" cy="230.5" r="6.85"/></g>
<g fill="#92b93c"><circle cx="1534.6" cy="219.4" r="6.85"/></g>
<g fill="#eab135"><circle cx="1534.6" cy="203" r="6.85"/></g>
<g fill="#e9ae38"><circle cx="1534.6" cy="193.5" r="6.85"/></g>
<g fill="#51bc70"><circle cx="1543.7" cy="251.6" r="6.85"/></g>
<g fill="#92b93c"><circle cx="1543.7" cy="241" r="6.85"/></g>
<g fill="#68bc5c"><circle cx="1543.7" cy="230.5" r="6.85"/></g>
<g fill="#b8b226"><circle cx="1543.7" cy="219.9" r="6.85"/></g>
<g fill="#eab135"><circle cx="1543.7" cy="203" r="6.85"/></g>
<g fill="#51bc70"><circle cx="1552.8" cy="251.6" r="6.85"/></g>
<g fill="#b1b329"><circle cx="1552.8" cy="241" r="6.85"/></g>
<g fill="#92b93c"><circle cx="1552.8" cy="230.5" r="6.85"/></g>
<g fill="#e9ae38"><circle cx="1552.8" cy="219.9" r="6.85"/></g>
<g fill="#e2ab36"><circle cx="1552.8" cy="203" r="6.85"/></g>
<g fill="#42bb7b"><circle cx="1561.9" cy="251.6" r="6.85"/></g>
<g fill="#92b93c"><circle cx="1561.9" cy="241" r="6.85"/></g>
<g fill="#71bc56"><circle cx="1561.9" cy="230.5" r="6.85"/></g>
<g fill="#b8b226"><circle cx="1561.9" cy="219.9" r="6.85"/></g>
<g fill="#32b88c"><circle cx="1571.1" cy="251.6" r="6.85"/></g>
<g fill="#37b986"><circle cx="1571.1" cy="241" r="6.85"/></g>
<g fill="#71bc56"><circle cx="1571.1" cy="230.5" r="6.85"/></g>
<g fill="#37b986"><circle cx="1580.2" cy="251.6" r="6.85"/></g>
<g fill="#32b88c"><circle cx="1580.2" cy="241" r="6.85"/></g>
<g fill="#42bb7b"><circle cx="1580.2" cy="230.5" r="6.85"/></g>
<g fill="#92b93c"><circle cx="1580.2" cy="213.6" r="6.85"/></g>
<g fill="#2fb790"><circle cx="1589.3" cy="251.6" r="6.85"/></g>
<g fill="#32b88c"><circle cx="1589.3" cy="241" r="6.85"/></g>
<g fill="#42bb7b"><circle cx="1589.3" cy="230.5" r="6.85"/><circle cx="1598.4" cy="251.6" r="6.85"/></g>
<g fill="#79bb4f"><circle cx="1598.4" cy="241" r="6.85"/></g>
<g fill="#60bc63"><circle cx="1598.4" cy="230.5" r="6.85"/></g>
<g fill="#58bc69"><circle cx="1607.5" cy="251.6" r="6.85"/></g>
<g fill="#60bc63"><circle cx="1607.5" cy="241" r="6.85"/></g>
<g fill="#eab135"><circle cx="1607.5" cy="230" r="6.85"/></g>
<g fill="#51bc70"><circle cx="1616.7" cy="251.6" r="6.85"/></g>
<g fill="#58bc69"><circle cx="1616.7" cy="241" r="6.85"/></g>
<g fill="#42bb7b"><circle cx="1625.8" cy="251.6" r="6.85"/></g>
<g fill="#58bc69"><circle cx="1625.8" cy="241" r="6.85"/></g>
<g fill="#e3e01a"><circle cx="1625.8" cy="218.9" r="6.85"/></g>
<g fill="#37b986"><circle cx="1634.9" cy="251.6" r="6.85"/></g>
<g fill="#71bc56"><circle cx="1634.9" cy="241" r="6.85"/></g>
<g fill="#b8b226"><circle cx="1634.9" cy="230" r="6.85"/></g>
<g fill="#42bb7b"><circle cx="1644" cy="251.6" r="6.85"/></g>
<g fill="#92b93c"><circle cx="1644" cy="241" r="6.85"/></g>
<g fill="#e3ca27"><circle cx="1644" cy="230" r="6.85"/></g>
<g fill="#42bb7b"><circle cx="1653.1" cy="251.6" r="6.85"/></g>
<g fill="#82bb49"><circle cx="1653.1" cy="241" r="6.85"/></g>
<g fill="#bfb024"><circle cx="1653.1" cy="230" r="6.85"/></g>
<g fill="#42bb7b"><circle cx="1662.3" cy="251.6" r="6.85"/></g>
<g fill="#68bc5c"><circle cx="1662.3" cy="241" r="6.85"/></g>
<g fill="#79bb4f"><circle cx="1671.4" cy="251.6" r="6.85"/></g>
<g fill="#60bc63"><circle cx="1671.4" cy="241" r="6.85"/></g>
<g fill="#68bc5c"><circle cx="1671.4" cy="230" r="6.85"/></g>
<g fill="#51bc70"><circle cx="1680.5" cy="251.6" r="6.85"/></g>
<g fill="#2cb595"><circle cx="1680.5" cy="241" r="6.85"/></g>
<g fill="#e2ab36"><circle cx="1680.5" cy="230" r="6.85"/></g>
<g fill="#42bb7b"><circle cx="1689.6" cy="251.6" r="6.85"/></g>
<g fill="#0fa3c4"><circle cx="1689.6" cy="241" r="6.85"/></g>
<g fill="#eab135"><circle cx="1689.6" cy="230" r="6.85"/></g>
<g fill="#42bb7b"><circle cx="1698.7" cy="251.6" r="6.85"/></g>
<g fill="#2f70e9"><circle cx="1698.7" cy="241" r="6.85"/></g>
<g fill="#37b986"><circle cx="1698.7" cy="230" r="6.85"/><circle cx="1707.9" cy="251.6" r="6.85"/></g>
<g fill="#4137cd"><circle cx="1707.9" cy="240" r="6.85"/></g>
<g fill="#42bb7b"><circle cx="1717" cy="251.6" r="6.85"/></g>
<g fill="#3e2fbc"><circle cx="1717" cy="241" r="6.85"/></g>
<g fill="#2981e0"><circle cx="1717" cy="213.6" r="6.85"/></g>
<g fill="#51bc70"><circle cx="1726.1" cy="251.6" r="6.85"/></g>
<g fill="#3e2fbc"><circle cx="1726.1" cy="241" r="6.85"/></g>
<g fill="#3c2aaf"><circle cx="1726.1" cy="236.3" r="6.85"/></g>
<g fill="#e8e8e8"><circle cx="1726.1" cy="224.7" r="6.85"/><circle cx="1726.1" cy="213.6" r="6.85"/><circle cx="1726.1" cy="187.2" r="6.85"/></g>
<g fill="#51bc70"><circle cx="1735.2" cy="251.6" r="6.85"/></g>
<g fill="#3e2fbc"><circle cx="1735.2" cy="241" r="6.85"/><circle cx="1735.2" cy="230.5" r="6.85"/></g>
<g fill="#3f31c2"><circle cx="1735.2" cy="219.9" r="6.85"/></g>
<g fill="#3c2aaf"><circle cx="1735.2" cy="209.4" r="6.85"/></g>
<g fill="#4137cd"><circle cx="1735.2" cy="197.7" r="6.85"/></g>
<g fill="#3e2fbc"><circle cx="1735.2" cy="186.1" r="6.85"/></g>
<g fill="#58bc69"><circle cx="1744.3" cy="251.6" r="6.85"/></g>
<g fill="#413ed5"><circle cx="1744.3" cy="241" r="6.85"/></g>
<g fill="#3f31c2"><circle cx="1744.3" cy="230.5" r="6.85"/><circle cx="1744.3" cy="219.9" r="6.85"/></g>
<g fill="#3e2fbc"><circle cx="1744.3" cy="209.4" r="6.85"/></g>
<g fill="#3c2aaf"><circle cx="1744.3" cy="197.7" r="6.85"/></g>
<g fill="#413ad1"><circle cx="1744.3" cy="181.9" r="6.85"/></g>
<g fill="#51bc70"><circle cx="1753.5" cy="251.6" r="6.85"/></g>
<g fill="#4244db"><circle cx="1753.5" cy="241" r="6.85"/><circle cx="1753.5" cy="230.5" r="6.85"/></g>
<g fill="#3e2fbc"><circle cx="1753.5" cy="217.3" r="6.85"/><circle cx="1753.5" cy="224.7" r="6.85"/></g>
<g fill="#3c2aaf"><circle cx="1753.5" cy="209.4" r="6.85"/><circle cx="1753.5" cy="197.7" r="6.85"/></g>
<g fill="#58bc69"><circle cx="1762.6" cy="251.6" r="6.85"/></g>
<g fill="#424ee2"><circle cx="1762.6" cy="241" r="6.85"/><circle cx="1762.6" cy="236.3" r="6.85"/><circle cx="1762.6" cy="230.5" r="6.85"/></g>
<g fill="#413ed5"><circle cx="1762.6" cy="219.9" r="6.85"/></g>
<g fill="#4137cd"><circle cx="1762.6" cy="209.4" r="6.85"/></g>
<g fill="#4244db"><circle cx="1762.6" cy="202" r="6.85"/></g>
<g fill="#42bb7b"><circle cx="1771.7" cy="251.6" r="6.85"/></g>
<g fill="#2f70e9"><circle cx="1771.7" cy="241" r="6.85"/></g>
<g fill="#3e5fe9"><circle cx="1771.7" cy="230.5" r="6.85"/></g>
<g fill="#4244db"><circle cx="1771.7" cy="219.9" r="6.85"/></g>
<g fill="#4248de"><circle cx="1771.7" cy="207.8" r="6.85"/></g>
<g fill="#51bc70"><circle cx="1780.8" cy="251.6" r="6.85"/></g>
<g fill="#2a7ae4"><circle cx="1780.8" cy="241" r="6.85"/></g>
<g fill="#2f70e9"><circle cx="1780.8" cy="230.5" r="6.85"/><circle cx="1780.8" cy="219.9" r="6.85"/><circle cx="1780.8" cy="209.4" r="6.85"/></g>
<g fill="#2a7ae4"><circle cx="1780.8" cy="202.5" r="6.85"/></g>
<g fill="#42bb7b"><circle cx="1789.9" cy="251.6" r="6.85"/></g>
<g fill="#2981e0"><circle cx="1789.9" cy="241" r="6.85"/></g>
<g fill="#2b77e6"><circle cx="1789.9" cy="230.5" r="6.85"/></g>
<g fill="#2f70e9"><circle cx="1789.9" cy="219.9" r="6.85"/><circle cx="1789.9" cy="209.4" r="6.85"/></g>
<g fill="#3e5fe9"><circle cx="1789.9" cy="197.7" r="6.85"/></g>
<g fill="#51bc70"><circle cx="1799.1" cy="251.6" r="6.85"/></g>
<g fill="#1d97d1"><circle cx="1799.1" cy="241" r="6.85"/></g>
<g fill="#228fd5"><circle cx="1799.1" cy="230.5" r="6.85"/></g>
<g fill="#2981e0"><circle cx="1799.1" cy="219.9" r="6.85"/></g>
<g fill="#2b77e6"><circle cx="1799.1" cy="209.4" r="6.85"/></g>
<g fill="#4058e7"><circle cx="1799.1" cy="202.5" r="6.85"/></g>
<g fill="#37b986"><circle cx="1808.2" cy="251.6" r="6.85"/></g>
<g fill="#05a7bd"><circle cx="1808.2" cy="241" r="6.85"/></g>
<g fill="#13a1c8"><circle cx="1808.2" cy="230.5" r="6.85"/><circle cx="1808.2" cy="219.9" r="6.85"/></g>
<g fill="#199ccd"><circle cx="1808.2" cy="209.4" r="6.85"/></g>
<g fill="#3e5fe9"><circle cx="1808.2" cy="202.5" r="6.85"/></g>
<g fill="#2981e0"><circle cx="1808.2" cy="192.5" r="6.85"/></g>
<g fill="#51bc70"><circle cx="1817.3" cy="251.6" r="6.85"/></g>
<g fill="#42bb7b"><circle cx="1817.3" cy="241" r="6.85"/><circle cx="1817.3" cy="230.5" r="6.85"/></g>
<g fill="#10afaa"><circle cx="1817.3" cy="219.9" r="6.85"/></g>
<g fill="#04acb2"><circle cx="1817.3" cy="213.6" r="6.85"/></g>
<g fill="#37b986"><circle cx="1817.3" cy="186.7" r="6.85"/></g>
<g fill="#3b28a9"><circle cx="1379.5" cy="214.1" r="6.85"/></g>
<circle cx="1589.3" cy="230.5" r="11.2" fill="#fff" stroke="#000" stroke-width="3.8"/><path d="M1584 225.2l10.6 10.6m0 -10.6l-10.6 10.6" stroke="#000" stroke-width="3.6" fill="none"/>
<rect x="1494" y="100.6" width="8.2" height="151" fill="#262626" fill-opacity="0.68"/><text class="sf" font-size="28.5" transform="translate(1508.4 92.6) rotate(-90)" x="0" y="0" stroke="#000" stroke-width="0.3">HO</text>
<rect x="1585.2" y="110.6" width="8.2" height="141" fill="#262626" fill-opacity="0.68"/><text class="sf" font-size="28.5" transform="translate(1599.6 102.6) rotate(-90)" x="0" y="0" stroke="#000" stroke-width="0.3">TDc</text>
<rect x="1630.8" y="99" width="8.2" height="152.6" fill="#262626" fill-opacity="0.68"/><text class="sf" font-size="28.5" transform="translate(1645.2 91) rotate(-90)" x="0" y="0" stroke="#000" stroke-width="0.3">TO</text>
<text class="cm" font-size="25.3" x="1361.3" y="278.2" text-anchor="middle" stroke="#000" stroke-width="0.7" stroke-linejoin="round">0</text>
<text class="cm" font-size="25.3" x="1452.5" y="278.2" text-anchor="middle" stroke="#000" stroke-width="0.7" stroke-linejoin="round">20</text>
<text class="cm" font-size="25.3" x="1543.7" y="278.2" text-anchor="middle" stroke="#000" stroke-width="0.7" stroke-linejoin="round">40</text>
<text class="cm" font-size="25.3" x="1634.9" y="278.2" text-anchor="middle" stroke="#000" stroke-width="0.7" stroke-linejoin="round">60</text>
<text class="cm" font-size="25.3" x="1726.1" y="278.2" text-anchor="middle" stroke="#000" stroke-width="0.7" stroke-linejoin="round">80</text>
<text class="cm" font-size="25.3" x="1817.3" y="278.2" text-anchor="middle" stroke="#000" stroke-width="0.7" stroke-linejoin="round">100</text>
<text class="cm" font-size="25.3" x="1354.8" y="258.2" text-anchor="end" stroke="#000" stroke-width="0.7" stroke-linejoin="round">0</text>
<text class="cm" font-size="25.3" x="1354.8" y="152.6" text-anchor="end" stroke="#000" stroke-width="0.7" stroke-linejoin="round">20</text>
<text class="cm" font-size="25.3" x="1354.8" y="47" text-anchor="end" stroke="#000" stroke-width="0.7" stroke-linejoin="round">40</text>
<text class="cm" font-size="30" x="1470" y="311.4" textLength="237" lengthAdjust="spacingAndGlyphs" stroke="#000" stroke-width="0.7" stroke-linejoin="round"><tspan font-style="italic">gc</tspan><tspan font-size="28.2" dy="8.1">off</tspan><tspan dy="-8.1">&#8202;</tspan>&#8201;(% gait cycle)</text>
<text class="cm" font-size="30" transform="translate(1315.8 255.4) rotate(-90)" textLength="220" lengthAdjust="spacingAndGlyphs" stroke="#000" stroke-width="0.7" stroke-linejoin="round"><tspan font-style="italic">t</tspan><tspan font-size="28.2" dy="8.1">off</tspan><tspan dy="-8.1">&#8202;</tspan>&#8201;(% gait cycle)</text>
<text class="cm" font-size="30" x="1436.1" y="25.9" textLength="306.5" lengthAdjust="spacingAndGlyphs" stroke="#000" stroke-width="0.7" stroke-linejoin="round">Reference <tspan font-style="italic">v&#772;</tspan><tspan font-style="italic" font-size="21.6" dy="6">x</tspan><tspan dy="-6">&#8202;</tspan> = 1.27 <tspan font-style="italic">m/s</tspan></text>
<rect x="1858.2" y="40.4" width="35.2" height="211.2" fill="url(#gpar)" stroke="#000" stroke-width="1.4"/>
<path d="M1893.4 49.1h-3.5" stroke="#000" stroke-width="1.2"/>
<text class="sf" font-size="22" x="1902.2" y="56.9" text-anchor="start">10</text>
<path d="M1893.4 118.3h-3.5" stroke="#000" stroke-width="1.2"/>
<text class="sf" font-size="22" x="1902.2" y="126.1" text-anchor="start">0</text>
<path d="M1893.4 188.4h-3.5" stroke="#000" stroke-width="1.2"/>
<text class="sf" font-size="22" x="1902.2" y="196.2" text-anchor="start">-10</text>
<text class="cm" font-size="32.5" transform="translate(1968.6 197.8) rotate(-90)" textLength="104.6" lengthAdjust="spacingAndGlyphs" stroke="#000" stroke-width="0.7" stroke-linejoin="round">&#916; <tspan font-style="italic">v&#772;</tspan><tspan font-style="italic" font-size="23.4" dy="6.5">x</tspan><tspan dy="-6.5">&#8202;</tspan> (%)</text>
</g><g id="small2">
<path d="M1367.7 390.4h-6.4V601.6H1817.3" fill="none" stroke="#000" stroke-width="1.5"/>
<path d="M1361.3 496h6.4" fill="none" stroke="#000" stroke-width="1.5"/>
<g fill="#b8b226"><circle cx="1361.3" cy="601.6" r="6.85"/><circle cx="1361.3" cy="591" r="6.85"/><circle cx="1361.3" cy="580.5" r="6.85"/><circle cx="1361.3" cy="569.9" r="6.85"/><circle cx="1361.3" cy="559.4" r="6.85"/><circle cx="1361.3" cy="548.8" r="6.85"/><circle cx="1361.3" cy="537.7" r="6.85"/><circle cx="1370.4" cy="601.6" r="6.85"/></g>
<g fill="#a2b632"><circle cx="1370.4" cy="591" r="6.85"/></g>
<g fill="#51bc70"><circle cx="1370.4" cy="580.5" r="6.85"/></g>
<g fill="#37b986"><circle cx="1370.4" cy="574.1" r="6.85"/><circle cx="1370.4" cy="563.6" r="6.85"/><circle cx="1370.4" cy="553" r="6.85"/></g>
<g fill="#d7ac2d"><circle cx="1379.5" cy="601.6" r="6.85"/></g>
<g fill="#68bc5c"><circle cx="1379.5" cy="591" r="6.85"/></g>
<g fill="#42bb7b"><circle cx="1379.5" cy="583.1" r="6.85"/></g>
<g fill="#e8e8e8"><circle cx="1379.5" cy="575.2" r="6.85"/></g>
<g fill="#eab533"><circle cx="1388.7" cy="558.8" r="6.85"/></g>
<g fill="#b8b226"><circle cx="1388.7" cy="601.6" r="6.85"/></g>
<g fill="#82bb49"><circle cx="1388.7" cy="591" r="6.85"/></g>
<g fill="#e8e8e8"><circle cx="1388.7" cy="578.9" r="6.85"/></g>
<g fill="#b8b226"><circle cx="1397.8" cy="601.6" r="6.85"/><circle cx="1397.8" cy="590" r="6.85"/><circle cx="1406.9" cy="601.6" r="6.85"/></g>
<g fill="#d7ac2d"><circle cx="1406.9" cy="591" r="6.85"/></g>
<g fill="#e2ab36"><circle cx="1406.9" cy="579.4" r="6.85"/></g>
<g fill="#b8b226"><circle cx="1416" cy="601.6" r="6.85"/></g>
<g fill="#d7ac2d"><circle cx="1416" cy="591" r="6.85"/></g>
<g fill="#e9ae38"><circle cx="1416" cy="579.4" r="6.85"/></g>
<g fill="#b8b226"><circle cx="1425.1" cy="601.6" r="6.85"/></g>
<g fill="#e3e01a"><circle cx="1425.1" cy="590" r="6.85"/></g>
<g fill="#b8b226"><circle cx="1434.3" cy="601.6" r="6.85"/><circle cx="1443.4" cy="601.6" r="6.85"/><circle cx="1452.5" cy="601.6" r="6.85"/><circle cx="1461.6" cy="601.6" r="6.85"/></g>
<g fill="#b1b329"><circle cx="1470.7" cy="601.6" r="6.85"/></g>
<g fill="#d7ac2d"><circle cx="1470.7" cy="590" r="6.85"/></g>
<g fill="#a2b632"><circle cx="1479.9" cy="601.6" r="6.85"/></g>
<g fill="#ccad26"><circle cx="1479.9" cy="591" r="6.85"/></g>
<g fill="#d7ac2d"><circle cx="1479.9" cy="580" r="6.85"/></g>
<g fill="#e9ae38"><circle cx="1479.9" cy="569.9" r="6.85"/><circle cx="1479.9" cy="558.8" r="6.85"/></g>
<g fill="#eab135"><circle cx="1479.9" cy="547.7" r="6.85"/></g>
<g fill="#eab533"><circle cx="1479.9" cy="537.2" r="6.85"/></g>
<g fill="#92b93c"><circle cx="1489" cy="601.6" r="6.85"/></g>
<g fill="#ccad26"><circle cx="1489" cy="591" r="6.85"/></g>
<g fill="#d7ac2d"><circle cx="1489" cy="580.5" r="6.85"/></g>
<g fill="#e9ae38"><circle cx="1489" cy="569.9" r="6.85"/><circle cx="1489" cy="559.4" r="6.85"/><circle cx="1489" cy="548.8" r="6.85"/></g>
<g fill="#eab135"><circle cx="1489" cy="538.2" r="6.85"/></g>
<g fill="#eab533"><circle cx="1489" cy="527.2" r="6.85"/></g>
<g fill="#b8b226"><circle cx="1498.1" cy="601.6" r="6.85"/></g>
<g fill="#ccad26"><circle cx="1498.1" cy="591" r="6.85"/></g>
<g fill="#d7ac2d"><circle cx="1498.1" cy="580.5" r="6.85"/></g>
<g fill="#e2ab36"><circle cx="1498.1" cy="569.9" r="6.85"/></g>
<g fill="#e9ae38"><circle cx="1498.1" cy="559.4" r="6.85"/><circle cx="1498.1" cy="548.8" r="6.85"/></g>
<g fill="#b8b226"><circle cx="1507.2" cy="601.6" r="6.85"/></g>
<g fill="#bfb024"><circle cx="1507.2" cy="591" r="6.85"/></g>
<g fill="#ccad26"><circle cx="1507.2" cy="580.5" r="6.85"/></g>
<g fill="#d7ac2d"><circle cx="1507.2" cy="569.9" r="6.85"/></g>
<g fill="#e9ae38"><circle cx="1507.2" cy="559.4" r="6.85"/></g>
<g fill="#eab135"><circle cx="1507.2" cy="547.7" r="6.85"/></g>
<g fill="#eab533"><circle cx="1507.2" cy="527.2" r="6.85"/></g>
<g fill="#b8b226"><circle cx="1516.3" cy="601.6" r="6.85"/></g>
<g fill="#bfb024"><circle cx="1516.3" cy="591" r="6.85"/></g>
<g fill="#ccad26"><circle cx="1516.3" cy="580.5" r="6.85"/></g>
<g fill="#d7ac2d"><circle cx="1516.3" cy="569.9" r="6.85"/></g>
<g fill="#e9ae38"><circle cx="1516.3" cy="558.3" r="6.85"/></g>
<g fill="#eab533"><circle cx="1516.3" cy="537.7" r="6.85"/></g>
<g fill="#b8b226"><circle cx="1525.5" cy="601.6" r="6.85"/></g>
<g fill="#bfb024"><circle cx="1525.5" cy="591" r="6.85"/><circle cx="1525.5" cy="580.5" r="6.85"/></g>
<g fill="#e2ab36"><circle cx="1525.5" cy="569.9" r="6.85"/></g>
<g fill="#eab533"><circle cx="1525.5" cy="543" r="6.85"/><circle cx="1525.5" cy="532.4" r="6.85"/></g>
<g fill="#b8b226"><circle cx="1534.6" cy="601.6" r="6.85"/></g>
<g fill="#bfb024"><circle cx="1534.6" cy="591" r="6.85"/></g>
<g fill="#c6af25"><circle cx="1534.6" cy="580.5" r="6.85"/></g>
<g fill="#e2ab36"><circle cx="1534.6" cy="569.4" r="6.85"/></g>
<g fill="#eab533"><circle cx="1534.6" cy="553" r="6.85"/><circle cx="1534.6" cy="543.5" r="6.85"/></g>
<g fill="#b8b226"><circle cx="1543.7" cy="601.6" r="6.85"/></g>
<g fill="#ccad26"><circle cx="1543.7" cy="591" r="6.85"/><circle cx="1543.7" cy="580.5" r="6.85"/></g>
<g fill="#e2ab36"><circle cx="1543.7" cy="569.9" r="6.85"/></g>
<g fill="#eab135"><circle cx="1543.7" cy="553" r="6.85"/></g>
<g fill="#b8b226"><circle cx="1552.8" cy="601.6" r="6.85"/></g>
<g fill="#d7ac2d"><circle cx="1552.8" cy="591" r="6.85"/><circle cx="1552.8" cy="580.5" r="6.85"/><circle cx="1552.8" cy="569.9" r="6.85"/></g>
<g fill="#e2ab36"><circle cx="1552.8" cy="553" r="6.85"/></g>
<g fill="#b8b226"><circle cx="1561.9" cy="601.6" r="6.85"/></g>
<g fill="#d7ac2d"><circle cx="1561.9" cy="591" r="6.85"/></g>
<g fill="#ccad26"><circle cx="1561.9" cy="580.5" r="6.85"/></g>
<g fill="#bfb024"><circle cx="1561.9" cy="569.9" r="6.85"/></g>
<g fill="#b8b226"><circle cx="1571.1" cy="601.6" r="6.85"/></g>
<g fill="#bfb024"><circle cx="1571.1" cy="591" r="6.85"/><circle cx="1571.1" cy="580.5" r="6.85"/></g>
<g fill="#b8b226"><circle cx="1580.2" cy="601.6" r="6.85"/></g>
<g fill="#bfb024"><circle cx="1580.2" cy="591" r="6.85"/></g>
<g fill="#ccad26"><circle cx="1580.2" cy="580.5" r="6.85"/></g>
<g fill="#eab135"><circle cx="1580.2" cy="563.6" r="6.85"/></g>
<g fill="#b8b226"><circle cx="1589.3" cy="601.6" r="6.85"/></g>
<g fill="#bfb024"><circle cx="1589.3" cy="591" r="6.85"/></g>
<g fill="#ccad26"><circle cx="1589.3" cy="580.5" r="6.85"/></g>
<g fill="#b8b226"><circle cx="1598.4" cy="601.6" r="6.85"/></g>
<g fill="#bfb024"><circle cx="1598.4" cy="591" r="6.85"/><circle cx="1598.4" cy="580.5" r="6.85"/></g>
<g fill="#b8b226"><circle cx="1607.5" cy="601.6" r="6.85"/><circle cx="1607.5" cy="591" r="6.85"/></g>
<g fill="#eab135"><circle cx="1607.5" cy="580" r="6.85"/></g>
<g fill="#b8b226"><circle cx="1616.7" cy="601.6" r="6.85"/><circle cx="1616.7" cy="591" r="6.85"/><circle cx="1625.8" cy="601.6" r="6.85"/><circle cx="1625.8" cy="591" r="6.85"/></g>
<g fill="#e3e01a"><circle cx="1625.8" cy="568.9" r="6.85"/></g>
<g fill="#b1b329"><circle cx="1634.9" cy="601.6" r="6.85"/></g>
<g fill="#bfb024"><circle cx="1634.9" cy="591" r="6.85"/></g>
<g fill="#d7ac2d"><circle cx="1634.9" cy="580" r="6.85"/></g>
<g fill="#b8b226"><circle cx="1644" cy="601.6" r="6.85"/></g>
<g fill="#ccad26"><circle cx="1644" cy="591" r="6.85"/></g>
<g fill="#e2dc1d"><circle cx="1644" cy="580" r="6.85"/></g>
<g fill="#b8b226"><circle cx="1653.1" cy="601.6" r="6.85"/></g>
<g fill="#ccad26"><circle cx="1653.1" cy="591" r="6.85"/></g>
<g fill="#e6c32a"><circle cx="1653.1" cy="580" r="6.85"/></g>
<g fill="#b1b329"><circle cx="1662.3" cy="601.6" r="6.85"/></g>
<g fill="#ccad26"><circle cx="1662.3" cy="591" r="6.85"/></g>
<g fill="#b1b329"><circle cx="1671.4" cy="601.6" r="6.85"/></g>
<g fill="#bfb024"><circle cx="1671.4" cy="591" r="6.85"/></g>
<g fill="#b8b226"><circle cx="1671.4" cy="580" r="6.85"/></g>
<g fill="#aab52d"><circle cx="1680.5" cy="601.6" r="6.85"/></g>
<g fill="#a2b632"><circle cx="1680.5" cy="591" r="6.85"/></g>
<g fill="#bfb024"><circle cx="1680.5" cy="580" r="6.85"/></g>
<g fill="#b1b329"><circle cx="1689.6" cy="601.6" r="6.85"/></g>
<g fill="#e6c32a"><circle cx="1689.6" cy="591" r="6.85"/></g>
<g fill="#d7ac2d"><circle cx="1689.6" cy="580" r="6.85"/></g>
<g fill="#b1b329"><circle cx="1698.7" cy="601.6" r="6.85"/><circle cx="1698.7" cy="591" r="6.85"/></g>
<g fill="#bfb024"><circle cx="1698.7" cy="580" r="6.85"/></g>
<g fill="#b8b226"><circle cx="1707.9" cy="601.6" r="6.85"/></g>
<g fill="#eab135"><circle cx="1707.9" cy="590" r="6.85"/></g>
<g fill="#b8b226"><circle cx="1717" cy="601.6" r="6.85"/></g>
<g fill="#eab135"><circle cx="1717" cy="591" r="6.85"/></g>
<g fill="#d7ac2d"><circle cx="1717" cy="563.6" r="6.85"/></g>
<g fill="#b8b226"><circle cx="1726.1" cy="601.6" r="6.85"/></g>
<g fill="#eab135"><circle cx="1726.1" cy="591" r="6.85"/><circle cx="1726.1" cy="586.3" r="6.85"/></g>
<g fill="#eab533"><circle cx="1726.1" cy="574.7" r="6.85"/></g>
<g fill="#eab830"><circle cx="1726.1" cy="563.6" r="6.85"/></g>
<g fill="#eab135"><circle cx="1726.1" cy="537.2" r="6.85"/></g>
<g fill="#b8b226"><circle cx="1735.2" cy="601.6" r="6.85"/></g>
<g fill="#eab533"><circle cx="1735.2" cy="591" r="6.85"/><circle cx="1735.2" cy="580.5" r="6.85"/><circle cx="1735.2" cy="569.9" r="6.85"/><circle cx="1735.2" cy="559.4" r="6.85"/><circle cx="1735.2" cy="547.7" r="6.85"/><circle cx="1735.2" cy="536.1" r="6.85"/></g>
<g fill="#b8b226"><circle cx="1744.3" cy="601.6" r="6.85"/></g>
<g fill="#eab135"><circle cx="1744.3" cy="591" r="6.85"/></g>
<g fill="#eab533"><circle cx="1744.3" cy="580.5" r="6.85"/><circle cx="1744.3" cy="569.9" r="6.85"/><circle cx="1744.3" cy="559.4" r="6.85"/><circle cx="1744.3" cy="547.7" r="6.85"/></g>
<g fill="#e2ab36"><circle cx="1744.3" cy="531.9" r="6.85"/></g>
<g fill="#b8b226"><circle cx="1753.5" cy="601.6" r="6.85"/></g>
<g fill="#eab135"><circle cx="1753.5" cy="591" r="6.85"/><circle cx="1753.5" cy="580.5" r="6.85"/></g>
<g fill="#01abb6"><circle cx="1753.5" cy="567.3" r="6.85"/></g>
<g fill="#3c2aaf"><circle cx="1753.5" cy="574.7" r="6.85"/><circle cx="1753.5" cy="559.4" r="6.85"/></g>
<g fill="#05a7bd"><circle cx="1753.5" cy="547.7" r="6.85"/></g>
<g fill="#b8b226"><circle cx="1762.6" cy="601.6" r="6.85"/></g>
<g fill="#e9ae38"><circle cx="1762.6" cy="591" r="6.85"/></g>
<g fill="#3c2aaf"><circle cx="1762.6" cy="586.3" r="6.85"/></g>
<g fill="#eab135"><circle cx="1762.6" cy="580.5" r="6.85"/><circle cx="1762.6" cy="569.9" r="6.85"/><circle cx="1762.6" cy="559.4" r="6.85"/><circle cx="1762.6" cy="552" r="6.85"/></g>
<g fill="#b8b226"><circle cx="1771.7" cy="601.6" r="6.85"/></g>
<g fill="#bfb024"><circle cx="1771.7" cy="591" r="6.85"/></g>
<g fill="#b8b226"><circle cx="1771.7" cy="580.5" r="6.85"/></g>
<g fill="#bfb024"><circle cx="1771.7" cy="569.9" r="6.85"/></g>
<g fill="#3c2aaf"><circle cx="1771.7" cy="557.8" r="6.85"/></g>
<g fill="#b8b226"><circle cx="1780.8" cy="601.6" r="6.85"/></g>
<g fill="#b1b329"><circle cx="1780.8" cy="591" r="6.85"/></g>
<g fill="#a2b632"><circle cx="1780.8" cy="580.5" r="6.85"/></g>
<g fill="#b1b329"><circle cx="1780.8" cy="569.9" r="6.85"/></g>
<g fill="#b8b226"><circle cx="1780.8" cy="559.4" r="6.85"/></g>
<g fill="#b1b329"><circle cx="1780.8" cy="552.5" r="6.85"/></g>
<g fill="#b8b226"><circle cx="1789.9" cy="601.6" r="6.85"/></g>
<g fill="#92b93c"><circle cx="1789.9" cy="591" r="6.85"/><circle cx="1789.9" cy="580.5" r="6.85"/></g>
<g fill="#a2b632"><circle cx="1789.9" cy="569.9" r="6.85"/></g>
<g fill="#bfb024"><circle cx="1789.9" cy="559.4" r="6.85"/></g>
<g fill="#3d2db6"><circle cx="1789.9" cy="547.7" r="6.85"/></g>
<g fill="#b8b226"><circle cx="1799.1" cy="601.6" r="6.85"/></g>
<g fill="#92b93c"><circle cx="1799.1" cy="591" r="6.85"/></g>
<g fill="#82bb49"><circle cx="1799.1" cy="580.5" r="6.85"/></g>
<g fill="#a2b632"><circle cx="1799.1" cy="569.9" r="6.85"/></g>
<g fill="#b1b329"><circle cx="1799.1" cy="559.4" r="6.85"/></g>
<g fill="#b8b226"><circle cx="1799.1" cy="552.5" r="6.85"/><circle cx="1808.2" cy="601.6" r="6.85"/></g>
<g fill="#a2b632"><circle cx="1808.2" cy="591" r="6.85"/><circle cx="1808.2" cy="580.5" r="6.85"/></g>
<g fill="#b1b329"><circle cx="1808.2" cy="569.9" r="6.85"/><circle cx="1808.2" cy="559.4" r="6.85"/></g>
<g fill="#b8b226"><circle cx="1808.2" cy="552.5" r="6.85"/></g>
<g fill="#bfb024"><circle cx="1808.2" cy="542.5" r="6.85"/></g>
<g fill="#b8b226"><circle cx="1817.3" cy="601.6" r="6.85"/><circle cx="1817.3" cy="591" r="6.85"/></g>
<g fill="#b1b329"><circle cx="1817.3" cy="580.5" r="6.85"/></g>
<g fill="#d7ac2d"><circle cx="1817.3" cy="569.9" r="6.85"/></g>
<g fill="#71bc56"><circle cx="1817.3" cy="563.6" r="6.85"/></g>
<g fill="#b8b226"><circle cx="1817.3" cy="536.7" r="6.85"/></g>
<g fill="#8aba43"><circle cx="1379.5" cy="564.1" r="6.85"/></g>
<circle cx="1589.3" cy="580.5" r="11.2" fill="#fff" stroke="#000" stroke-width="3.8"/><path d="M1584 575.2l10.6 10.6m0 -10.6l-10.6 10.6" stroke="#000" stroke-width="3.6" fill="none"/>
<rect x="1494" y="450.6" width="8.2" height="151" fill="#262626" fill-opacity="0.68"/><text class="sf" font-size="28.5" transform="translate(1508.4 442.6) rotate(-90)" x="0" y="0" stroke="#000" stroke-width="0.3">HO</text>
<rect x="1585.2" y="460.6" width="8.2" height="141" fill="#262626" fill-opacity="0.68"/><text class="sf" font-size="28.5" transform="translate(1599.6 452.6) rotate(-90)" x="0" y="0" stroke="#000" stroke-width="0.3">TDc</text>
<rect x="1630.8" y="449" width="8.2" height="152.6" fill="#262626" fill-opacity="0.68"/><text class="sf" font-size="28.5" transform="translate(1645.2 441) rotate(-90)" x="0" y="0" stroke="#000" stroke-width="0.3">TO</text>
<text class="cm" font-size="25.3" x="1361.3" y="628.2" text-anchor="middle" stroke="#000" stroke-width="0.7" stroke-linejoin="round">0</text>
<text class="cm" font-size="25.3" x="1452.5" y="628.2" text-anchor="middle" stroke="#000" stroke-width="0.7" stroke-linejoin="round">20</text>
<text class="cm" font-size="25.3" x="1543.7" y="628.2" text-anchor="middle" stroke="#000" stroke-width="0.7" stroke-linejoin="round">40</text>
<text class="cm" font-size="25.3" x="1634.9" y="628.2" text-anchor="middle" stroke="#000" stroke-width="0.7" stroke-linejoin="round">60</text>
<text class="cm" font-size="25.3" x="1726.1" y="628.2" text-anchor="middle" stroke="#000" stroke-width="0.7" stroke-linejoin="round">80</text>
<text class="cm" font-size="25.3" x="1817.3" y="628.2" text-anchor="middle" stroke="#000" stroke-width="0.7" stroke-linejoin="round">100</text>
<text class="cm" font-size="25.3" x="1354.8" y="608.2" text-anchor="end" stroke="#000" stroke-width="0.7" stroke-linejoin="round">0</text>
<text class="cm" font-size="25.3" x="1354.8" y="502.6" text-anchor="end" stroke="#000" stroke-width="0.7" stroke-linejoin="round">20</text>
<text class="cm" font-size="25.3" x="1354.8" y="397" text-anchor="end" stroke="#000" stroke-width="0.7" stroke-linejoin="round">40</text>
<text class="cm" font-size="30" x="1470" y="661.4" textLength="237" lengthAdjust="spacingAndGlyphs" stroke="#000" stroke-width="0.7" stroke-linejoin="round"><tspan font-style="italic">gc</tspan><tspan font-size="28.2" dy="8.1">off</tspan><tspan dy="-8.1">&#8202;</tspan>&#8201;(% gait cycle)</text>
<text class="cm" font-size="30" transform="translate(1315.8 605.4) rotate(-90)" textLength="220" lengthAdjust="spacingAndGlyphs" stroke="#000" stroke-width="0.7" stroke-linejoin="round"><tspan font-style="italic">t</tspan><tspan font-size="28.2" dy="8.1">off</tspan><tspan dy="-8.1">&#8202;</tspan>&#8201;(% gait cycle)</text>
<text class="cm" font-size="30" x="1423.4" y="375.7" textLength="331.3" lengthAdjust="spacingAndGlyphs" stroke="#000" stroke-width="0.7" stroke-linejoin="round">Reference &#916; <tspan font-style="italic">p</tspan><tspan font-style="italic" font-size="21.6" dy="6">x</tspan><tspan dy="-6">&#8202;</tspan> = 15.22 Ns</text>
<rect x="1858.2" y="390.4" width="35.2" height="211.2" fill="url(#gpar)" stroke="#000" stroke-width="1.4"/>
<path d="M1893.4 411.1h-3.5" stroke="#000" stroke-width="1.2"/>
<text class="sf" font-size="22" x="1902.2" y="418.9" text-anchor="start">20</text>
<path d="M1893.4 444.4h-3.5" stroke="#000" stroke-width="1.2"/>
<text class="sf" font-size="22" x="1902.2" y="452.2" text-anchor="start">0</text>
<path d="M1893.4 478.2h-3.5" stroke="#000" stroke-width="1.2"/>
<text class="sf" font-size="22" x="1902.2" y="486" text-anchor="start">-20</text>
<path d="M1893.4 511.1h-3.5" stroke="#000" stroke-width="1.2"/>
<text class="sf" font-size="22" x="1902.2" y="518.9" text-anchor="start">-40</text>
<path d="M1893.4 543.9h-3.5" stroke="#000" stroke-width="1.2"/>
<text class="sf" font-size="22" x="1902.2" y="551.7" text-anchor="start">-60</text>
<path d="M1893.4 577.2h-3.5" stroke="#000" stroke-width="1.2"/>
<text class="sf" font-size="22" x="1902.2" y="585" text-anchor="start">-80</text>
<text class="cm" font-size="32.5" transform="translate(1968.6 549) rotate(-90)" textLength="105.5" lengthAdjust="spacingAndGlyphs" stroke="#000" stroke-width="0.7" stroke-linejoin="round">&#916; <tspan font-style="italic">p</tspan><tspan font-style="italic" font-size="23.4" dy="6.5">x</tspan><tspan dy="-6.5">&#8202;</tspan> (%)</text>
</g>
<text x="455.8" y="747.5" font-size="40.5" class="sf" font-weight="bold" textLength="52.6" lengthAdjust="spacingAndGlyphs">(a)</text>
<text x="520.4" y="747.5" font-size="42" class="cm" textLength="239.6" lengthAdjust="spacingAndGlyphs">Stability map.</text>
<text x="1442.4" y="747.5" font-size="40.5" class="sf" font-weight="bold" textLength="55.4" lengthAdjust="spacingAndGlyphs">(b)</text>
<text x="1508.6" y="747.5" font-size="42" class="cm" textLength="342.6" lengthAdjust="spacingAndGlyphs">Gait characteristics.</text>
</svg></body></html>
